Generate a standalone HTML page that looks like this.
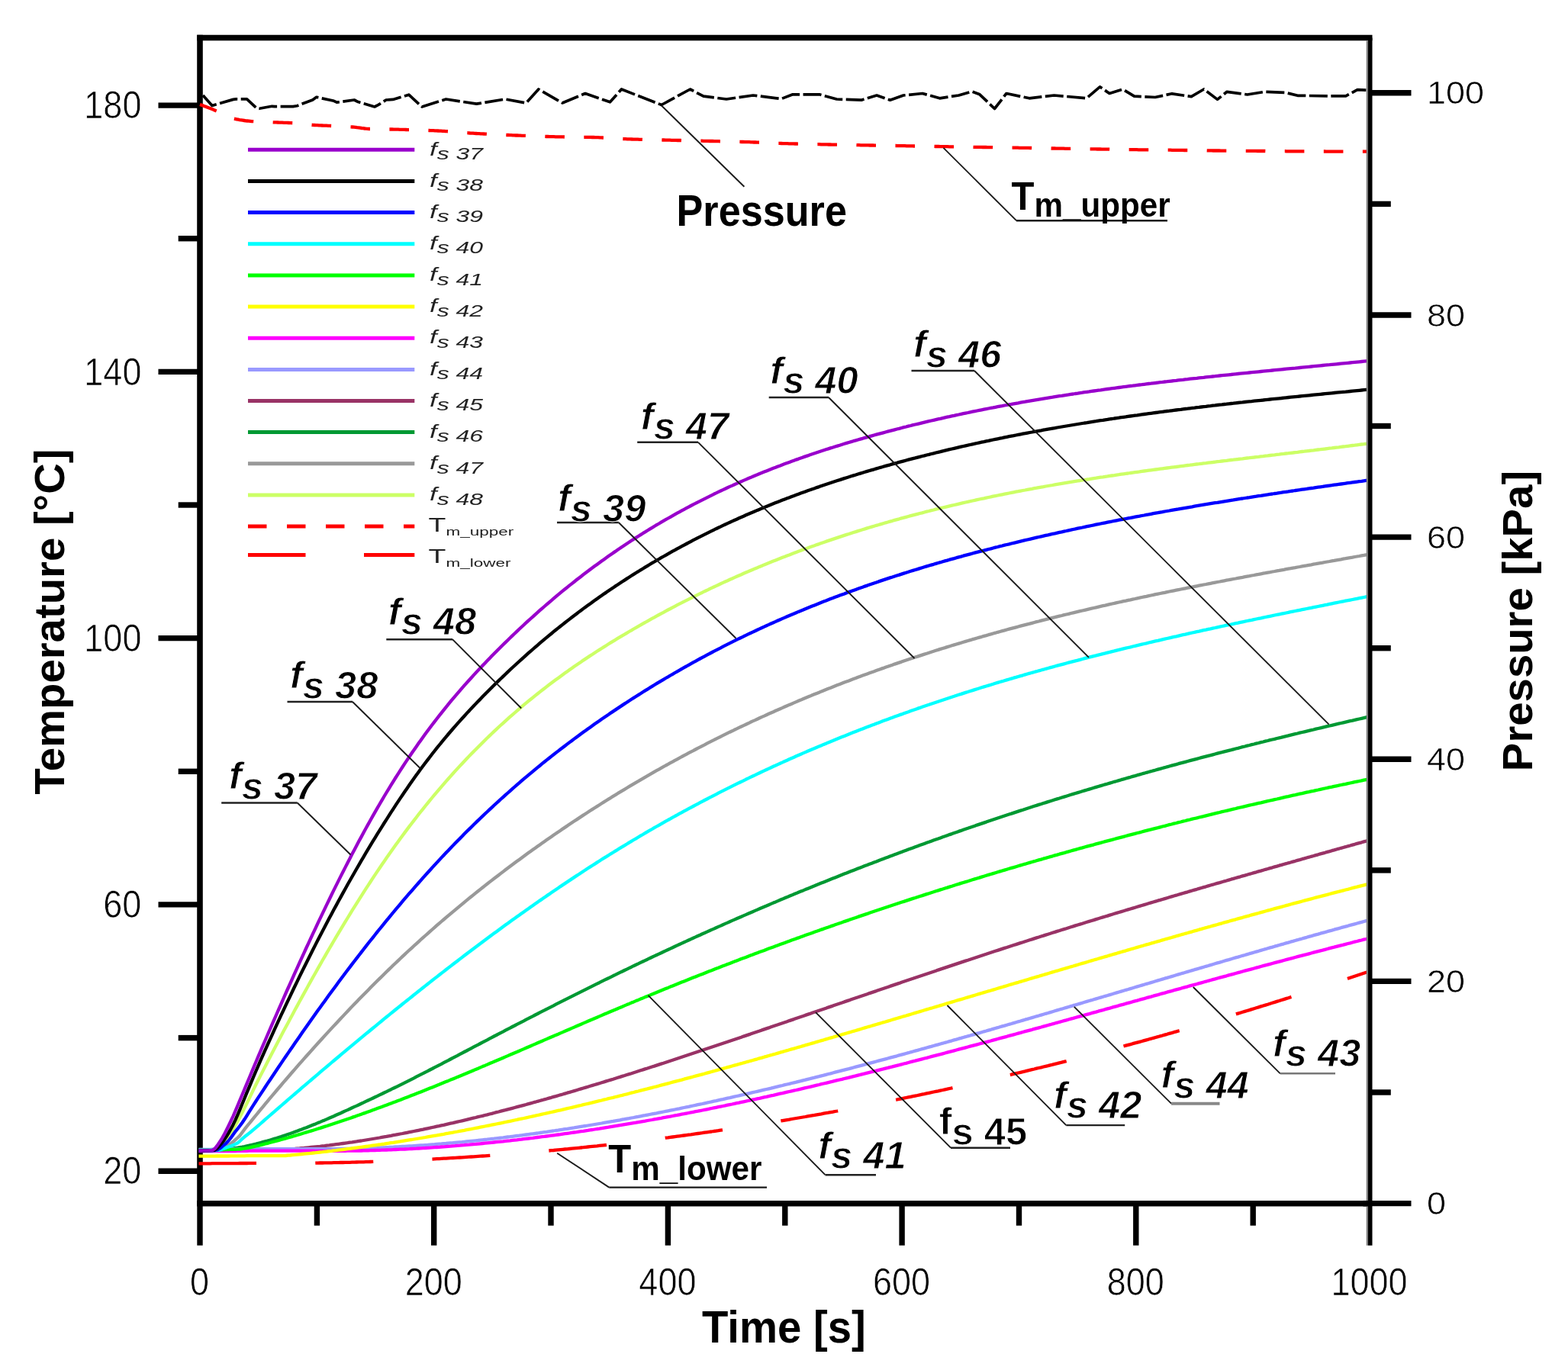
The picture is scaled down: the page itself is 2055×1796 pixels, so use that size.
<!DOCTYPE html>
<html lang="en"><head><meta charset="utf-8"><title>Temperature and pressure over time</title>
<style>
html,body{margin:0;padding:0;background:#fff;}
body{width:2055px;height:1796px;}
svg{display:block;}
text{font-family:"Liberation Sans",sans-serif;fill:#000;}
.tk{font-size:45px;stroke:#fff;stroke-width:0.6;}
.ttl{font-size:56.3px;font-weight:bold;}
.an{font-size:50.6px;font-weight:bold;stroke:#fff;stroke-width:1.0;}
.it{font-style:italic;}
.lg{font-size:24px;font-style:italic;fill:#222;}
.lgT{font-size:25px;fill:#222;}
.ax{stroke:#000;stroke-width:7.6;fill:none;stroke-linecap:butt;}
.tkl{stroke:#000;stroke-width:7.4;fill:none;stroke-linecap:butt;}
.cv{fill:none;stroke-width:4.3;stroke-linejoin:round;stroke-linecap:butt;}
.ld{fill:none;stroke-width:1.9;stroke:#1a1a1a;}
</style></head><body>
<svg width="2055" height="1796" viewBox="0 0 2055 1796" role="img" aria-label="Temperature and pressure versus time">
<rect x="0" y="0" width="2055" height="1796" fill="#fff"/>
<g id="axes">
<line class="ax" x1="262.0" y1="45.7" x2="262.0" y2="1577.7"/>
<line class="ax" x1="258.2" y1="49.5" x2="1798.5" y2="49.5"/>
<line class="ax" x1="258.2" y1="1577.7" x2="1794.5" y2="1577.7"/>
<line class="tkl" x1="207.5" y1="1535.2" x2="262.0" y2="1535.2"/>
<text class="tk" text-anchor="end" transform="translate(185.4,1552.4) scale(1,1.09)">20</text>
<line class="tkl" x1="233.7" y1="1360.6" x2="262.0" y2="1360.6"/>
<line class="tkl" x1="207.5" y1="1185.9" x2="262.0" y2="1185.9"/>
<text class="tk" text-anchor="end" transform="translate(185.4,1203.1) scale(1,1.09)">60</text>
<line class="tkl" x1="233.7" y1="1011.3" x2="262.0" y2="1011.3"/>
<line class="tkl" x1="207.5" y1="836.6" x2="262.0" y2="836.6"/>
<text class="tk" text-anchor="end" transform="translate(185.4,853.8) scale(1,1.09)">100</text>
<line class="tkl" x1="233.7" y1="662" x2="262.0" y2="662"/>
<line class="tkl" x1="207.5" y1="487.4" x2="262.0" y2="487.4"/>
<text class="tk" text-anchor="end" transform="translate(185.4,504.6) scale(1,1.09)">140</text>
<line class="tkl" x1="233.7" y1="312.7" x2="262.0" y2="312.7"/>
<line class="tkl" x1="207.5" y1="138.1" x2="262.0" y2="138.1"/>
<text class="tk" text-anchor="end" transform="translate(185.4,155.3) scale(1,1.09)">180</text>
<line class="tkl" x1="262" y1="1577.7" x2="262" y2="1632.7"/>
<text class="tk" text-anchor="middle" transform="translate(261.5,1697.6) scale(1,1.09)">0</text>
<line class="tkl" x1="415.4" y1="1577.7" x2="415.4" y2="1606.7"/>
<line class="tkl" x1="568.7" y1="1577.7" x2="568.7" y2="1632.7"/>
<text class="tk" text-anchor="middle" transform="translate(568.2,1697.6) scale(1,1.09)">200</text>
<line class="tkl" x1="722" y1="1577.7" x2="722" y2="1606.7"/>
<line class="tkl" x1="875.4" y1="1577.7" x2="875.4" y2="1632.7"/>
<text class="tk" text-anchor="middle" transform="translate(874.9,1697.6) scale(1,1.09)">400</text>
<line class="tkl" x1="1028.8" y1="1577.7" x2="1028.8" y2="1606.7"/>
<line class="tkl" x1="1182.1" y1="1577.7" x2="1182.1" y2="1632.7"/>
<text class="tk" text-anchor="middle" transform="translate(1181.6,1697.6) scale(1,1.09)">600</text>
<line class="tkl" x1="1335.5" y1="1577.7" x2="1335.5" y2="1606.7"/>
<line class="tkl" x1="1488.8" y1="1577.7" x2="1488.8" y2="1632.7"/>
<text class="tk" text-anchor="middle" transform="translate(1488.3,1697.6) scale(1,1.09)">800</text>
<line class="tkl" x1="1642.2" y1="1577.7" x2="1642.2" y2="1606.7"/>
<text class="tk" text-anchor="middle" transform="translate(1794.6,1697.6) scale(1,1.09)">1000</text>
</g>
<g id="curves">
<polyline class="cv" stroke="#ccff66" points="260.5,1508.5 263.5,1508.5 266.5,1508.5 269.5,1508.4 272.5,1508.3 275.5,1508.2 278.5,1508.1 281.5,1507.7 284.5,1506 287.5,1503.4 290.5,1500.5 293.5,1497.4 296.5,1493.6 299.5,1489.3 302.5,1484.9 305.5,1480.2 308.5,1475.2 311.5,1469.9 314.5,1464.3 317.5,1458.5 320.5,1452.6 323.5,1446.5 326.5,1440.3 329.5,1434.1 332.5,1427.9 335.5,1421.8 338.5,1415.8 341.5,1409.9 344.5,1404 347.5,1398.2 350.5,1392.3 353.5,1386.5 356.5,1380.7 359.5,1375 362.5,1369.2 365.5,1363.5 368.5,1357.8 371.5,1352.1 374.5,1346.5 377.5,1340.9 380.5,1335.2 383.5,1329.7 386.5,1324.1 389.5,1318.6 392.5,1313 395.5,1307.6 398.5,1302.1 401.5,1296.7 404.5,1291.2 407.5,1285.9 410.5,1280.5 413.5,1275.2 416.5,1269.9 419.5,1264.6 422.5,1259.3 425.5,1254.1 428.5,1248.9 431.5,1243.7 434.5,1238.6 437.5,1233.5 440.5,1228.4 443.5,1223.4 446.5,1218.3 449.5,1213.3 452.5,1208.4 455.5,1203.5 458.5,1198.6 461.5,1193.7 464.5,1188.9 467.5,1184.1 470.5,1179.3 473.5,1174.6 476.5,1169.9 479.5,1165.2 482.5,1160.6 485.5,1156 488.5,1151.4 491.5,1146.9 494.5,1142.4 497.5,1138 500.5,1133.5 503.5,1129.2 506.5,1124.8 509.5,1120.5 512.5,1116.2 515.5,1112 518.5,1107.8 521.5,1103.7 524.5,1099.5 527.5,1095.4 530.5,1091.4 533.5,1087.4 536.5,1083.4 539.5,1079.5 542.5,1075.6 545.5,1071.7 548.5,1067.8 551.5,1064 554.5,1060.3 557.5,1056.5 560.5,1052.8 563.5,1049.2 566.5,1045.5 569.5,1041.9 572.5,1038.4 575.5,1034.8 578.5,1031.3 581.5,1027.8 584.5,1024.4 587.5,1021 590.5,1017.6 593.5,1014.3 596.5,1010.9 599.5,1007.6 602.5,1004.4 605.5,1001.2 608.5,998 611.5,994.8 614.5,991.6 617.5,988.5 620.5,985.4 623.5,982.4 626.5,979.4 629.5,976.4 632.5,973.4 635.5,970.4 638.5,967.5 641.5,964.6 644.5,961.8 647.5,958.9 650.5,956.1 653.5,953.3 656.5,950.5 659.5,947.8 662.5,945.1 665.5,942.4 668.5,939.7 671.5,937.1 674.5,934.5 677.5,931.9 680.5,929.3 683.5,926.7 686.5,924.2 689.5,921.7 692.5,919.2 695.5,916.8 698.5,914.3 701.5,911.9 704.5,909.5 707.5,907.1 710.5,904.8 713.5,902.5 716.5,900.1 719.5,897.8 722.5,895.6 725.5,893.3 728.5,891.1 731.5,888.9 734.5,886.7 737.5,884.5 740.5,882.3 743.5,880.2 746.5,878 749.5,875.9 752.5,873.8 755.5,871.8 758.5,869.7 761.5,867.7 764.5,865.6 767.5,863.6 770.5,861.6 773.5,859.6 776.5,857.7 779.5,855.7 782.5,853.8 785.5,851.9 788.5,850 791.5,848.1 794.5,846.2 797.5,844.3 800.5,842.4 803.5,840.6 806.5,838.8 809.5,836.9 812.5,835.1 815.5,833.3 818.5,831.6 821.5,829.8 824.5,828 827.5,826.3 830.5,824.5 833.5,822.8 836.5,821.1 839.5,819.4 842.5,817.6 845.5,816 848.5,814.3 851.5,812.6 854.5,810.9 857.5,809.3 860.5,807.6 863.5,806 866.5,804.4 869.5,802.8 872.5,801.1 875.5,799.5 878.5,798 881.5,796.4 884.5,794.8 887.5,793.2 890.5,791.7 893.5,790.2 896.5,788.6 899.5,787.1 902.5,785.6 905.5,784.1 908.5,782.6 911.5,781.1 914.5,779.6 917.5,778.1 920.5,776.7 923.5,775.2 926.5,773.8 929.5,772.3 932.5,770.9 935.5,769.5 938.5,768.1 941.5,766.7 944.5,765.3 947.5,763.9 950.5,762.5 953.5,761.2 956.5,759.8 959.5,758.5 962.5,757.1 965.5,755.8 968.5,754.5 971.5,753.2 974.5,751.8 977.5,750.5 980.5,749.3 983.5,748 986.5,746.7 989.5,745.4 992.5,744.2 995.5,742.9 998.5,741.7 1001.5,740.4 1004.5,739.2 1007.5,738 1010.5,736.8 1013.5,735.6 1016.5,734.4 1019.5,733.2 1022.5,732 1025.5,730.8 1028.5,729.7 1031.5,728.5 1034.5,727.4 1037.5,726.2 1040.5,725.1 1043.5,723.9 1046.5,722.8 1049.5,721.7 1052.5,720.6 1055.5,719.5 1058.5,718.4 1061.5,717.3 1064.5,716.2 1067.5,715.2 1070.5,714.1 1073.5,713.1 1076.5,712 1079.5,711 1082.5,709.9 1085.5,708.9 1088.5,707.9 1091.5,706.9 1094.5,705.9 1097.5,704.9 1100.5,703.9 1103.5,702.9 1106.5,701.9 1109.5,700.9 1112.5,700 1115.5,699 1118.5,698 1121.5,697.1 1124.5,696.1 1127.5,695.2 1130.5,694.3 1133.5,693.4 1136.5,692.4 1139.5,691.5 1142.5,690.6 1145.5,689.7 1148.5,688.8 1151.5,688 1154.5,687.1 1157.5,686.2 1160.5,685.3 1163.5,684.5 1166.5,683.6 1169.5,682.8 1172.5,681.9 1175.5,681.1 1178.5,680.3 1181.5,679.4 1184.5,678.6 1187.5,677.8 1190.5,677 1193.5,676.2 1196.5,675.4 1199.5,674.6 1202.5,673.8 1205.5,673 1208.5,672.3 1211.5,671.5 1214.5,670.7 1217.5,670 1220.5,669.2 1223.5,668.5 1226.5,667.7 1229.5,667 1232.5,666.2 1235.5,665.5 1238.5,664.8 1241.5,664.1 1244.5,663.4 1247.5,662.7 1250.5,662 1253.5,661.3 1256.5,660.6 1259.5,659.9 1262.5,659.2 1265.5,658.5 1268.5,657.8 1271.5,657.2 1274.5,656.5 1277.5,655.9 1280.5,655.2 1283.5,654.5 1286.5,653.9 1289.5,653.3 1292.5,652.6 1295.5,652 1298.5,651.4 1301.5,650.7 1304.5,650.1 1307.5,649.5 1310.5,648.9 1313.5,648.3 1316.5,647.7 1319.5,647.1 1322.5,646.5 1325.5,645.9 1328.5,645.3 1331.5,644.7 1334.5,644.2 1337.5,643.6 1340.5,643 1343.5,642.5 1346.5,641.9 1349.5,641.3 1352.5,640.8 1355.5,640.2 1358.5,639.7 1361.5,639.1 1364.5,638.6 1367.5,638.1 1370.5,637.5 1373.5,637 1376.5,636.5 1379.5,636 1382.5,635.4 1385.5,634.9 1388.5,634.4 1391.5,633.9 1394.5,633.4 1397.5,632.9 1400.5,632.4 1403.5,631.9 1406.5,631.4 1409.5,630.9 1412.5,630.4 1415.5,630 1418.5,629.5 1421.5,629 1424.5,628.5 1427.5,628.1 1430.5,627.6 1433.5,627.1 1436.5,626.7 1439.5,626.2 1442.5,625.7 1445.5,625.3 1448.5,624.8 1451.5,624.4 1454.5,623.9 1457.5,623.5 1460.5,623.1 1463.5,622.6 1466.5,622.2 1469.5,621.7 1472.5,621.3 1475.5,620.9 1478.5,620.5 1481.5,620 1484.5,619.6 1487.5,619.2 1490.5,618.8 1493.5,618.4 1496.5,617.9 1499.5,617.5 1502.5,617.1 1505.5,616.7 1508.5,616.3 1511.5,615.9 1514.5,615.5 1517.5,615.1 1520.5,614.7 1523.5,614.3 1526.5,613.9 1529.5,613.5 1532.5,613.1 1535.5,612.7 1538.5,612.3 1541.5,612 1544.5,611.6 1547.5,611.2 1550.5,610.8 1553.5,610.4 1556.5,610 1559.5,609.7 1562.5,609.3 1565.5,608.9 1568.5,608.5 1571.5,608.2 1574.5,607.8 1577.5,607.4 1580.5,607.1 1583.5,606.7 1586.5,606.3 1589.5,606 1592.5,605.6 1595.5,605.2 1598.5,604.9 1601.5,604.5 1604.5,604.1 1607.5,603.8 1610.5,603.4 1613.5,603 1616.5,602.7 1619.5,602.3 1622.5,602 1625.5,601.6 1628.5,601.3 1631.5,600.9 1634.5,600.5 1637.5,600.2 1640.5,599.8 1643.5,599.5 1646.5,599.1 1649.5,598.8 1652.5,598.4 1655.5,598.1 1658.5,597.7 1661.5,597.4 1664.5,597 1667.5,596.6 1670.5,596.3 1673.5,595.9 1676.5,595.6 1679.5,595.2 1682.5,594.9 1685.5,594.5 1688.5,594.2 1691.5,593.8 1694.5,593.5 1697.5,593.1 1700.5,592.8 1703.5,592.4 1706.5,592 1709.5,591.7 1712.5,591.3 1715.5,591 1718.5,590.6 1721.5,590.3 1724.5,589.9 1727.5,589.5 1730.5,589.2 1733.5,588.8 1736.5,588.5 1739.5,588.1 1742.5,587.7 1745.5,587.4 1748.5,587 1751.5,586.6 1754.5,586.3 1757.5,585.9 1760.5,585.5 1763.5,585.2 1766.5,584.8 1769.5,584.4 1772.5,584 1775.5,583.7 1778.5,583.3 1781.5,582.9 1784.5,582.5 1787.5,582.2 1790.5,581.8 1791.5,581.7"/>
<polyline class="cv" stroke="#999999" points="260.5,1508.5 263.5,1508.5 266.5,1508.5 269.5,1508.4 272.5,1508.4 275.5,1508.3 278.5,1508.2 281.5,1508.1 284.5,1508 287.5,1507.3 290.5,1506.1 293.5,1504.6 296.5,1502.8 299.5,1501.1 302.5,1499.2 305.5,1496.8 308.5,1494.1 311.5,1491.5 314.5,1488.6 317.5,1484.5 320.5,1480.4 323.5,1476.7 326.5,1473 329.5,1469.3 332.5,1465.7 335.5,1462 338.5,1458.3 341.5,1454.7 344.5,1451.1 347.5,1447.4 350.5,1443.8 353.5,1440.2 356.5,1436.7 359.5,1433.1 362.5,1429.5 365.5,1426 368.5,1422.5 371.5,1418.9 374.5,1415.5 377.5,1412 380.5,1408.5 383.5,1405 386.5,1401.6 389.5,1398.1 392.5,1394.7 395.5,1391.3 398.5,1387.9 401.5,1384.5 404.5,1381.2 407.5,1377.8 410.5,1374.5 413.5,1371.1 416.5,1367.8 419.5,1364.5 422.5,1361.2 425.5,1357.9 428.5,1354.6 431.5,1351.4 434.5,1348.1 437.5,1344.9 440.5,1341.7 443.5,1338.5 446.5,1335.3 449.5,1332.1 452.5,1328.9 455.5,1325.7 458.5,1322.6 461.5,1319.4 464.5,1316.3 467.5,1313.2 470.5,1310.1 473.5,1307 476.5,1304 479.5,1300.9 482.5,1297.9 485.5,1294.8 488.5,1291.8 491.5,1288.8 494.5,1285.8 497.5,1282.9 500.5,1279.9 503.5,1277 506.5,1274 509.5,1271.1 512.5,1268.2 515.5,1265.3 518.5,1262.5 521.5,1259.6 524.5,1256.8 527.5,1253.9 530.5,1251.1 533.5,1248.3 536.5,1245.5 539.5,1242.8 542.5,1240 545.5,1237.3 548.5,1234.6 551.5,1231.8 554.5,1229.1 557.5,1226.5 560.5,1223.8 563.5,1221.1 566.5,1218.5 569.5,1215.9 572.5,1213.2 575.5,1210.6 578.5,1208 581.5,1205.5 584.5,1202.9 587.5,1200.3 590.5,1197.8 593.5,1195.3 596.5,1192.8 599.5,1190.3 602.5,1187.8 605.5,1185.3 608.5,1182.8 611.5,1180.4 614.5,1177.9 617.5,1175.5 620.5,1173.1 623.5,1170.6 626.5,1168.2 629.5,1165.9 632.5,1163.5 635.5,1161.1 638.5,1158.8 641.5,1156.4 644.5,1154.1 647.5,1151.8 650.5,1149.5 653.5,1147.2 656.5,1144.9 659.5,1142.6 662.5,1140.3 665.5,1138.1 668.5,1135.8 671.5,1133.6 674.5,1131.3 677.5,1129.1 680.5,1126.9 683.5,1124.7 686.5,1122.5 689.5,1120.3 692.5,1118.1 695.5,1116 698.5,1113.8 701.5,1111.7 704.5,1109.5 707.5,1107.4 710.5,1105.3 713.5,1103.2 716.5,1101.1 719.5,1099 722.5,1096.9 725.5,1094.8 728.5,1092.8 731.5,1090.7 734.5,1088.7 737.5,1086.6 740.5,1084.6 743.5,1082.6 746.5,1080.5 749.5,1078.5 752.5,1076.5 755.5,1074.6 758.5,1072.6 761.5,1070.6 764.5,1068.6 767.5,1066.7 770.5,1064.8 773.5,1062.8 776.5,1060.9 779.5,1059 782.5,1057.1 785.5,1055.2 788.5,1053.3 791.5,1051.4 794.5,1049.5 797.5,1047.6 800.5,1045.8 803.5,1043.9 806.5,1042.1 809.5,1040.2 812.5,1038.4 815.5,1036.6 818.5,1034.8 821.5,1033 824.5,1031.2 827.5,1029.4 830.5,1027.6 833.5,1025.8 836.5,1024.1 839.5,1022.3 842.5,1020.6 845.5,1018.8 848.5,1017.1 851.5,1015.4 854.5,1013.7 857.5,1011.9 860.5,1010.2 863.5,1008.6 866.5,1006.9 869.5,1005.2 872.5,1003.5 875.5,1001.9 878.5,1000.2 881.5,998.6 884.5,996.9 887.5,995.3 890.5,993.7 893.5,992 896.5,990.4 899.5,988.8 902.5,987.2 905.5,985.6 908.5,984.1 911.5,982.5 914.5,980.9 917.5,979.4 920.5,977.8 923.5,976.3 926.5,974.7 929.5,973.2 932.5,971.7 935.5,970.2 938.5,968.6 941.5,967.1 944.5,965.7 947.5,964.2 950.5,962.7 953.5,961.2 956.5,959.7 959.5,958.3 962.5,956.8 965.5,955.4 968.5,953.9 971.5,952.5 974.5,951.1 977.5,949.7 980.5,948.3 983.5,946.8 986.5,945.4 989.5,944.1 992.5,942.7 995.5,941.3 998.5,939.9 1001.5,938.6 1004.5,937.2 1007.5,935.8 1010.5,934.5 1013.5,933.2 1016.5,931.8 1019.5,930.5 1022.5,929.2 1025.5,927.9 1028.5,926.5 1031.5,925.2 1034.5,923.9 1037.5,922.7 1040.5,921.4 1043.5,920.1 1046.5,918.8 1049.5,917.6 1052.5,916.3 1055.5,915 1058.5,913.8 1061.5,912.6 1064.5,911.3 1067.5,910.1 1070.5,908.9 1073.5,907.7 1076.5,906.4 1079.5,905.2 1082.5,904 1085.5,902.8 1088.5,901.7 1091.5,900.5 1094.5,899.3 1097.5,898.1 1100.5,897 1103.5,895.8 1106.5,894.6 1109.5,893.5 1112.5,892.4 1115.5,891.2 1118.5,890.1 1121.5,889 1124.5,887.8 1127.5,886.7 1130.5,885.6 1133.5,884.5 1136.5,883.4 1139.5,882.3 1142.5,881.2 1145.5,880.2 1148.5,879.1 1151.5,878 1154.5,876.9 1157.5,875.9 1160.5,874.8 1163.5,873.8 1166.5,872.7 1169.5,871.7 1172.5,870.6 1175.5,869.6 1178.5,868.6 1181.5,867.6 1184.5,866.5 1187.5,865.5 1190.5,864.5 1193.5,863.5 1196.5,862.5 1199.5,861.5 1202.5,860.6 1205.5,859.6 1208.5,858.6 1211.5,857.6 1214.5,856.7 1217.5,855.7 1220.5,854.7 1223.5,853.8 1226.5,852.8 1229.5,851.9 1232.5,850.9 1235.5,850 1238.5,849.1 1241.5,848.1 1244.5,847.2 1247.5,846.3 1250.5,845.4 1253.5,844.5 1256.5,843.6 1259.5,842.7 1262.5,841.8 1265.5,840.9 1268.5,840 1271.5,839.1 1274.5,838.2 1277.5,837.4 1280.5,836.5 1283.5,835.6 1286.5,834.8 1289.5,833.9 1292.5,833.1 1295.5,832.2 1298.5,831.4 1301.5,830.5 1304.5,829.7 1307.5,828.8 1310.5,828 1313.5,827.2 1316.5,826.4 1319.5,825.5 1322.5,824.7 1325.5,823.9 1328.5,823.1 1331.5,822.3 1334.5,821.5 1337.5,820.7 1340.5,819.9 1343.5,819.1 1346.5,818.3 1349.5,817.6 1352.5,816.8 1355.5,816 1358.5,815.2 1361.5,814.5 1364.5,813.7 1367.5,812.9 1370.5,812.2 1373.5,811.4 1376.5,810.7 1379.5,809.9 1382.5,809.2 1385.5,808.4 1388.5,807.7 1391.5,807 1394.5,806.2 1397.5,805.5 1400.5,804.8 1403.5,804 1406.5,803.3 1409.5,802.6 1412.5,801.9 1415.5,801.2 1418.5,800.5 1421.5,799.8 1424.5,799.1 1427.5,798.4 1430.5,797.7 1433.5,797 1436.5,796.3 1439.5,795.6 1442.5,794.9 1445.5,794.2 1448.5,793.6 1451.5,792.9 1454.5,792.2 1457.5,791.5 1460.5,790.9 1463.5,790.2 1466.5,789.5 1469.5,788.9 1472.5,788.2 1475.5,787.6 1478.5,786.9 1481.5,786.3 1484.5,785.6 1487.5,785 1490.5,784.3 1493.5,783.7 1496.5,783 1499.5,782.4 1502.5,781.8 1505.5,781.1 1508.5,780.5 1511.5,779.9 1514.5,779.2 1517.5,778.6 1520.5,778 1523.5,777.4 1526.5,776.8 1529.5,776.1 1532.5,775.5 1535.5,774.9 1538.5,774.3 1541.5,773.7 1544.5,773.1 1547.5,772.5 1550.5,771.9 1553.5,771.3 1556.5,770.7 1559.5,770.1 1562.5,769.5 1565.5,768.9 1568.5,768.3 1571.5,767.7 1574.5,767.1 1577.5,766.5 1580.5,766 1583.5,765.4 1586.5,764.8 1589.5,764.2 1592.5,763.6 1595.5,763 1598.5,762.5 1601.5,761.9 1604.5,761.3 1607.5,760.7 1610.5,760.2 1613.5,759.6 1616.5,759 1619.5,758.5 1622.5,757.9 1625.5,757.3 1628.5,756.8 1631.5,756.2 1634.5,755.6 1637.5,755.1 1640.5,754.5 1643.5,754 1646.5,753.4 1649.5,752.9 1652.5,752.3 1655.5,751.7 1658.5,751.2 1661.5,750.6 1664.5,750.1 1667.5,749.5 1670.5,749 1673.5,748.4 1676.5,747.9 1679.5,747.3 1682.5,746.8 1685.5,746.2 1688.5,745.7 1691.5,745.2 1694.5,744.6 1697.5,744.1 1700.5,743.5 1703.5,743 1706.5,742.4 1709.5,741.9 1712.5,741.4 1715.5,740.8 1718.5,740.3 1721.5,739.7 1724.5,739.2 1727.5,738.6 1730.5,738.1 1733.5,737.6 1736.5,737 1739.5,736.5 1742.5,736 1745.5,735.4 1748.5,734.9 1751.5,734.3 1754.5,733.8 1757.5,733.3 1760.5,732.7 1763.5,732.2 1766.5,731.6 1769.5,731.1 1772.5,730.6 1775.5,730 1778.5,729.5 1781.5,729 1784.5,728.4 1787.5,727.9 1790.5,727.3 1791.5,727.2"/>
<polyline class="cv" stroke="#009933" points="260.5,1507.5 263.5,1507.5 266.5,1507.5 269.5,1507.4 272.5,1507.3 275.5,1507.2 278.5,1507.1 281.5,1507 284.5,1506.9 287.5,1506.7 290.5,1506.6 293.5,1506.4 296.5,1506.2 299.5,1506 302.5,1505.8 305.5,1505.5 308.5,1505.1 311.5,1504.7 314.5,1504.1 317.5,1503.6 320.5,1503 323.5,1502.3 326.5,1501.7 329.5,1501 332.5,1500.3 335.5,1499.6 338.5,1498.8 341.5,1498 344.5,1497.2 347.5,1496.4 350.5,1495.6 353.5,1494.7 356.5,1493.8 359.5,1492.9 362.5,1492 365.5,1491 368.5,1490.1 371.5,1489.1 374.5,1488.1 377.5,1487 380.5,1486 383.5,1484.9 386.5,1483.8 389.5,1482.7 392.5,1481.6 395.5,1480.5 398.5,1479.3 401.5,1478.2 404.5,1477 407.5,1475.8 410.5,1474.6 413.5,1473.4 416.5,1472.1 419.5,1470.9 422.5,1469.6 425.5,1468.4 428.5,1467.1 431.5,1465.8 434.5,1464.5 437.5,1463.2 440.5,1461.8 443.5,1460.5 446.5,1459.2 449.5,1457.8 452.5,1456.4 455.5,1455.1 458.5,1453.7 461.5,1452.3 464.5,1450.9 467.5,1449.6 470.5,1448.2 473.5,1446.8 476.5,1445.4 479.5,1443.9 482.5,1442.5 485.5,1441.1 488.5,1439.7 491.5,1438.3 494.5,1436.9 497.5,1435.4 500.5,1434 503.5,1432.5 506.5,1431.1 509.5,1429.6 512.5,1428.2 515.5,1426.7 518.5,1425.3 521.5,1423.8 524.5,1422.3 527.5,1420.8 530.5,1419.3 533.5,1417.8 536.5,1416.3 539.5,1414.8 542.5,1413.3 545.5,1411.7 548.5,1410.2 551.5,1408.7 554.5,1407.2 557.5,1405.6 560.5,1404.1 563.5,1402.5 566.5,1401 569.5,1399.4 572.5,1397.9 575.5,1396.3 578.5,1394.8 581.5,1393.2 584.5,1391.6 587.5,1390.1 590.5,1388.5 593.5,1386.9 596.5,1385.3 599.5,1383.8 602.5,1382.2 605.5,1380.6 608.5,1379 611.5,1377.5 614.5,1375.9 617.5,1374.3 620.5,1372.7 623.5,1371.1 626.5,1369.6 629.5,1368 632.5,1366.4 635.5,1364.8 638.5,1363.3 641.5,1361.7 644.5,1360.1 647.5,1358.5 650.5,1357 653.5,1355.4 656.5,1353.8 659.5,1352.3 662.5,1350.7 665.5,1349.1 668.5,1347.6 671.5,1346 674.5,1344.5 677.5,1342.9 680.5,1341.4 683.5,1339.8 686.5,1338.3 689.5,1336.7 692.5,1335.2 695.5,1333.6 698.5,1332.1 701.5,1330.5 704.5,1329 707.5,1327.4 710.5,1325.9 713.5,1324.4 716.5,1322.8 719.5,1321.3 722.5,1319.8 725.5,1318.3 728.5,1316.7 731.5,1315.2 734.5,1313.7 737.5,1312.2 740.5,1310.6 743.5,1309.1 746.5,1307.6 749.5,1306.1 752.5,1304.6 755.5,1303.1 758.5,1301.6 761.5,1300.1 764.5,1298.6 767.5,1297.1 770.5,1295.6 773.5,1294.1 776.5,1292.6 779.5,1291.1 782.5,1289.6 785.5,1288.2 788.5,1286.7 791.5,1285.2 794.5,1283.7 797.5,1282.3 800.5,1280.8 803.5,1279.3 806.5,1277.9 809.5,1276.4 812.5,1274.9 815.5,1273.5 818.5,1272 821.5,1270.6 824.5,1269.1 827.5,1267.7 830.5,1266.2 833.5,1264.8 836.5,1263.4 839.5,1261.9 842.5,1260.5 845.5,1259.1 848.5,1257.7 851.5,1256.2 854.5,1254.8 857.5,1253.4 860.5,1252 863.5,1250.6 866.5,1249.2 869.5,1247.8 872.5,1246.4 875.5,1245 878.5,1243.6 881.5,1242.2 884.5,1240.8 887.5,1239.4 890.5,1238 893.5,1236.6 896.5,1235.2 899.5,1233.9 902.5,1232.5 905.5,1231.1 908.5,1229.7 911.5,1228.4 914.5,1227 917.5,1225.7 920.5,1224.3 923.5,1223 926.5,1221.6 929.5,1220.3 932.5,1218.9 935.5,1217.6 938.5,1216.2 941.5,1214.9 944.5,1213.6 947.5,1212.2 950.5,1210.9 953.5,1209.6 956.5,1208.2 959.5,1206.9 962.5,1205.6 965.5,1204.3 968.5,1203 971.5,1201.7 974.5,1200.4 977.5,1199.1 980.5,1197.8 983.5,1196.5 986.5,1195.2 989.5,1193.9 992.5,1192.6 995.5,1191.3 998.5,1190 1001.5,1188.7 1004.5,1187.5 1007.5,1186.2 1010.5,1184.9 1013.5,1183.6 1016.5,1182.4 1019.5,1181.1 1022.5,1179.8 1025.5,1178.6 1028.5,1177.3 1031.5,1176.1 1034.5,1174.8 1037.5,1173.6 1040.5,1172.3 1043.5,1171.1 1046.5,1169.8 1049.5,1168.6 1052.5,1167.4 1055.5,1166.1 1058.5,1164.9 1061.5,1163.7 1064.5,1162.5 1067.5,1161.3 1070.5,1160 1073.5,1158.8 1076.5,1157.6 1079.5,1156.4 1082.5,1155.2 1085.5,1154 1088.5,1152.8 1091.5,1151.6 1094.5,1150.4 1097.5,1149.2 1100.5,1148 1103.5,1146.8 1106.5,1145.6 1109.5,1144.5 1112.5,1143.3 1115.5,1142.1 1118.5,1140.9 1121.5,1139.8 1124.5,1138.6 1127.5,1137.4 1130.5,1136.3 1133.5,1135.1 1136.5,1134 1139.5,1132.8 1142.5,1131.7 1145.5,1130.5 1148.5,1129.4 1151.5,1128.2 1154.5,1127.1 1157.5,1125.9 1160.5,1124.8 1163.5,1123.7 1166.5,1122.5 1169.5,1121.4 1172.5,1120.3 1175.5,1119.2 1178.5,1118.1 1181.5,1116.9 1184.5,1115.8 1187.5,1114.7 1190.5,1113.6 1193.5,1112.5 1196.5,1111.4 1199.5,1110.3 1202.5,1109.2 1205.5,1108.1 1208.5,1107 1211.5,1105.9 1214.5,1104.8 1217.5,1103.8 1220.5,1102.7 1223.5,1101.6 1226.5,1100.5 1229.5,1099.5 1232.5,1098.4 1235.5,1097.3 1238.5,1096.3 1241.5,1095.2 1244.5,1094.1 1247.5,1093.1 1250.5,1092 1253.5,1091 1256.5,1089.9 1259.5,1088.9 1262.5,1087.8 1265.5,1086.8 1268.5,1085.8 1271.5,1084.7 1274.5,1083.7 1277.5,1082.7 1280.5,1081.6 1283.5,1080.6 1286.5,1079.6 1289.5,1078.6 1292.5,1077.6 1295.5,1076.5 1298.5,1075.5 1301.5,1074.5 1304.5,1073.5 1307.5,1072.5 1310.5,1071.5 1313.5,1070.5 1316.5,1069.5 1319.5,1068.5 1322.5,1067.5 1325.5,1066.6 1328.5,1065.6 1331.5,1064.6 1334.5,1063.6 1337.5,1062.6 1340.5,1061.7 1343.5,1060.7 1346.5,1059.7 1349.5,1058.8 1352.5,1057.8 1355.5,1056.8 1358.5,1055.9 1361.5,1054.9 1364.5,1054 1367.5,1053 1370.5,1052.1 1373.5,1051.1 1376.5,1050.2 1379.5,1049.3 1382.5,1048.3 1385.5,1047.4 1388.5,1046.5 1391.5,1045.5 1394.5,1044.6 1397.5,1043.7 1400.5,1042.8 1403.5,1041.8 1406.5,1040.9 1409.5,1040 1412.5,1039.1 1415.5,1038.2 1418.5,1037.3 1421.5,1036.4 1424.5,1035.5 1427.5,1034.6 1430.5,1033.7 1433.5,1032.8 1436.5,1031.9 1439.5,1031 1442.5,1030.1 1445.5,1029.2 1448.5,1028.3 1451.5,1027.5 1454.5,1026.6 1457.5,1025.7 1460.5,1024.8 1463.5,1024 1466.5,1023.1 1469.5,1022.2 1472.5,1021.4 1475.5,1020.5 1478.5,1019.6 1481.5,1018.8 1484.5,1017.9 1487.5,1017.1 1490.5,1016.2 1493.5,1015.4 1496.5,1014.5 1499.5,1013.7 1502.5,1012.8 1505.5,1012 1508.5,1011.2 1511.5,1010.3 1514.5,1009.5 1517.5,1008.6 1520.5,1007.8 1523.5,1007 1526.5,1006.2 1529.5,1005.3 1532.5,1004.5 1535.5,1003.7 1538.5,1002.9 1541.5,1002.1 1544.5,1001.2 1547.5,1000.4 1550.5,999.6 1553.5,998.8 1556.5,998 1559.5,997.2 1562.5,996.4 1565.5,995.6 1568.5,994.8 1571.5,994 1574.5,993.2 1577.5,992.4 1580.5,991.6 1583.5,990.8 1586.5,990.1 1589.5,989.3 1592.5,988.5 1595.5,987.7 1598.5,986.9 1601.5,986.2 1604.5,985.4 1607.5,984.6 1610.5,983.8 1613.5,983.1 1616.5,982.3 1619.5,981.5 1622.5,980.8 1625.5,980 1628.5,979.2 1631.5,978.5 1634.5,977.7 1637.5,977 1640.5,976.2 1643.5,975.5 1646.5,974.7 1649.5,974 1652.5,973.2 1655.5,972.5 1658.5,971.7 1661.5,971 1664.5,970.2 1667.5,969.5 1670.5,968.8 1673.5,968 1676.5,967.3 1679.5,966.6 1682.5,965.8 1685.5,965.1 1688.5,964.4 1691.5,963.6 1694.5,962.9 1697.5,962.2 1700.5,961.5 1703.5,960.7 1706.5,960 1709.5,959.3 1712.5,958.6 1715.5,957.9 1718.5,957.2 1721.5,956.5 1724.5,955.7 1727.5,955 1730.5,954.3 1733.5,953.6 1736.5,952.9 1739.5,952.2 1742.5,951.5 1745.5,950.8 1748.5,950.1 1751.5,949.4 1754.5,948.7 1757.5,948 1760.5,947.3 1763.5,946.6 1766.5,945.9 1769.5,945.2 1772.5,944.6 1775.5,943.9 1778.5,943.2 1781.5,942.5 1784.5,941.8 1787.5,941.1 1790.5,940.4 1791.5,940.2"/>
<polyline class="cv" stroke="#993366" points="260.5,1508.5 263.5,1508.5 266.5,1508.5 269.5,1508.5 272.5,1508.5 275.5,1508.5 278.5,1508.5 281.5,1508.4 284.5,1508.4 287.5,1508.4 290.5,1508.4 293.5,1508.3 296.5,1508.3 299.5,1508.3 302.5,1508.3 305.5,1508.2 308.5,1508.2 311.5,1508.1 314.5,1508.1 317.5,1508 320.5,1508 323.5,1507.9 326.5,1507.9 329.5,1507.9 332.5,1507.9 335.5,1507.9 338.5,1507.9 341.5,1507.9 344.5,1507.9 347.5,1507.9 350.5,1507.9 353.5,1507.8 356.5,1507.7 359.5,1507.5 362.5,1507.4 365.5,1507.2 368.5,1507.1 371.5,1506.9 374.5,1506.7 377.5,1506.5 380.5,1506.3 383.5,1506.1 386.5,1505.9 389.5,1505.6 392.5,1505.4 395.5,1505.1 398.5,1504.9 401.5,1504.6 404.5,1504.3 407.5,1504 410.5,1503.7 413.5,1503.4 416.5,1503.1 419.5,1502.8 422.5,1502.4 425.5,1502.1 428.5,1501.7 431.5,1501.4 434.5,1501 437.5,1500.6 440.5,1500.2 443.5,1499.8 446.5,1499.4 449.5,1499 452.5,1498.6 455.5,1498.2 458.5,1497.7 461.5,1497.3 464.5,1496.8 467.5,1496.4 470.5,1495.9 473.5,1495.5 476.5,1495 479.5,1494.5 482.5,1494 485.5,1493.5 488.5,1493 491.5,1492.5 494.5,1492 497.5,1491.5 500.5,1490.9 503.5,1490.4 506.5,1489.9 509.5,1489.3 512.5,1488.8 515.5,1488.2 518.5,1487.7 521.5,1487.1 524.5,1486.5 527.5,1486 530.5,1485.4 533.5,1484.8 536.5,1484.2 539.5,1483.6 542.5,1483 545.5,1482.4 548.5,1481.8 551.5,1481.2 554.5,1480.6 557.5,1479.9 560.5,1479.3 563.5,1478.7 566.5,1478 569.5,1477.4 572.5,1476.7 575.5,1476.1 578.5,1475.4 581.5,1474.8 584.5,1474.1 587.5,1473.4 590.5,1472.7 593.5,1472.1 596.5,1471.4 599.5,1470.7 602.5,1470 605.5,1469.3 608.5,1468.6 611.5,1467.9 614.5,1467.1 617.5,1466.4 620.5,1465.7 623.5,1465 626.5,1464.2 629.5,1463.5 632.5,1462.8 635.5,1462 638.5,1461.3 641.5,1460.5 644.5,1459.8 647.5,1459 650.5,1458.2 653.5,1457.5 656.5,1456.7 659.5,1455.9 662.5,1455.2 665.5,1454.4 668.5,1453.6 671.5,1452.8 674.5,1452 677.5,1451.2 680.5,1450.4 683.5,1449.6 686.5,1448.8 689.5,1448 692.5,1447.1 695.5,1446.3 698.5,1445.5 701.5,1444.7 704.5,1443.8 707.5,1443 710.5,1442.2 713.5,1441.3 716.5,1440.5 719.5,1439.6 722.5,1438.8 725.5,1437.9 728.5,1437.1 731.5,1436.2 734.5,1435.3 737.5,1434.5 740.5,1433.6 743.5,1432.7 746.5,1431.9 749.5,1431 752.5,1430.1 755.5,1429.2 758.5,1428.3 761.5,1427.4 764.5,1426.5 767.5,1425.6 770.5,1424.7 773.5,1423.8 776.5,1422.9 779.5,1422 782.5,1421.1 785.5,1420.2 788.5,1419.3 791.5,1418.4 794.5,1417.4 797.5,1416.5 800.5,1415.6 803.5,1414.7 806.5,1413.7 809.5,1412.8 812.5,1411.9 815.5,1410.9 818.5,1410 821.5,1409 824.5,1408.1 827.5,1407.2 830.5,1406.2 833.5,1405.3 836.5,1404.3 839.5,1403.3 842.5,1402.4 845.5,1401.4 848.5,1400.5 851.5,1399.5 854.5,1398.5 857.5,1397.6 860.5,1396.6 863.5,1395.6 866.5,1394.6 869.5,1393.7 872.5,1392.7 875.5,1391.7 878.5,1390.7 881.5,1389.8 884.5,1388.8 887.5,1387.8 890.5,1386.8 893.5,1385.8 896.5,1384.8 899.5,1383.8 902.5,1382.8 905.5,1381.8 908.5,1380.8 911.5,1379.8 914.5,1378.8 917.5,1377.8 920.5,1376.8 923.5,1375.8 926.5,1374.8 929.5,1373.8 932.5,1372.8 935.5,1371.8 938.5,1370.8 941.5,1369.8 944.5,1368.8 947.5,1367.8 950.5,1366.8 953.5,1365.8 956.5,1364.7 959.5,1363.7 962.5,1362.7 965.5,1361.7 968.5,1360.7 971.5,1359.7 974.5,1358.6 977.5,1357.6 980.5,1356.6 983.5,1355.6 986.5,1354.5 989.5,1353.5 992.5,1352.5 995.5,1351.5 998.5,1350.4 1001.5,1349.4 1004.5,1348.4 1007.5,1347.4 1010.5,1346.3 1013.5,1345.3 1016.5,1344.3 1019.5,1343.3 1022.5,1342.2 1025.5,1341.2 1028.5,1340.2 1031.5,1339.2 1034.5,1338.1 1037.5,1337.1 1040.5,1336.1 1043.5,1335 1046.5,1334 1049.5,1333 1052.5,1332 1055.5,1330.9 1058.5,1329.9 1061.5,1328.9 1064.5,1327.8 1067.5,1326.8 1070.5,1325.8 1073.5,1324.7 1076.5,1323.7 1079.5,1322.7 1082.5,1321.7 1085.5,1320.6 1088.5,1319.6 1091.5,1318.6 1094.5,1317.5 1097.5,1316.5 1100.5,1315.5 1103.5,1314.5 1106.5,1313.4 1109.5,1312.4 1112.5,1311.4 1115.5,1310.3 1118.5,1309.3 1121.5,1308.3 1124.5,1307.3 1127.5,1306.2 1130.5,1305.2 1133.5,1304.2 1136.5,1303.2 1139.5,1302.1 1142.5,1301.1 1145.5,1300.1 1148.5,1299.1 1151.5,1298 1154.5,1297 1157.5,1296 1160.5,1295 1163.5,1294 1166.5,1292.9 1169.5,1291.9 1172.5,1290.9 1175.5,1289.9 1178.5,1288.9 1181.5,1287.8 1184.5,1286.8 1187.5,1285.8 1190.5,1284.8 1193.5,1283.8 1196.5,1282.8 1199.5,1281.7 1202.5,1280.7 1205.5,1279.7 1208.5,1278.7 1211.5,1277.7 1214.5,1276.7 1217.5,1275.7 1220.5,1274.7 1223.5,1273.7 1226.5,1272.7 1229.5,1271.6 1232.5,1270.6 1235.5,1269.6 1238.5,1268.6 1241.5,1267.6 1244.5,1266.6 1247.5,1265.6 1250.5,1264.6 1253.5,1263.6 1256.5,1262.6 1259.5,1261.6 1262.5,1260.6 1265.5,1259.6 1268.5,1258.7 1271.5,1257.7 1274.5,1256.7 1277.5,1255.7 1280.5,1254.7 1283.5,1253.7 1286.5,1252.7 1289.5,1251.7 1292.5,1250.8 1295.5,1249.8 1298.5,1248.8 1301.5,1247.8 1304.5,1246.8 1307.5,1245.9 1310.5,1244.9 1313.5,1243.9 1316.5,1242.9 1319.5,1242 1322.5,1241 1325.5,1240 1328.5,1239 1331.5,1238.1 1334.5,1237.1 1337.5,1236.1 1340.5,1235.2 1343.5,1234.2 1346.5,1233.3 1349.5,1232.3 1352.5,1231.4 1355.5,1230.4 1358.5,1229.4 1361.5,1228.5 1364.5,1227.5 1367.5,1226.6 1370.5,1225.6 1373.5,1224.7 1376.5,1223.8 1379.5,1222.8 1382.5,1221.9 1385.5,1220.9 1388.5,1220 1391.5,1219 1394.5,1218.1 1397.5,1217.2 1400.5,1216.2 1403.5,1215.3 1406.5,1214.4 1409.5,1213.4 1412.5,1212.5 1415.5,1211.6 1418.5,1210.7 1421.5,1209.7 1424.5,1208.8 1427.5,1207.9 1430.5,1207 1433.5,1206.1 1436.5,1205.1 1439.5,1204.2 1442.5,1203.3 1445.5,1202.4 1448.5,1201.5 1451.5,1200.6 1454.5,1199.6 1457.5,1198.7 1460.5,1197.8 1463.5,1196.9 1466.5,1196 1469.5,1195.1 1472.5,1194.2 1475.5,1193.3 1478.5,1192.4 1481.5,1191.5 1484.5,1190.6 1487.5,1189.7 1490.5,1188.8 1493.5,1187.9 1496.5,1187 1499.5,1186.1 1502.5,1185.2 1505.5,1184.3 1508.5,1183.4 1511.5,1182.5 1514.5,1181.6 1517.5,1180.7 1520.5,1179.9 1523.5,1179 1526.5,1178.1 1529.5,1177.2 1532.5,1176.3 1535.5,1175.4 1538.5,1174.5 1541.5,1173.7 1544.5,1172.8 1547.5,1171.9 1550.5,1171 1553.5,1170.1 1556.5,1169.3 1559.5,1168.4 1562.5,1167.5 1565.5,1166.6 1568.5,1165.8 1571.5,1164.9 1574.5,1164 1577.5,1163.1 1580.5,1162.3 1583.5,1161.4 1586.5,1160.5 1589.5,1159.7 1592.5,1158.8 1595.5,1157.9 1598.5,1157.1 1601.5,1156.2 1604.5,1155.3 1607.5,1154.5 1610.5,1153.6 1613.5,1152.7 1616.5,1151.9 1619.5,1151 1622.5,1150.1 1625.5,1149.3 1628.5,1148.4 1631.5,1147.6 1634.5,1146.7 1637.5,1145.8 1640.5,1145 1643.5,1144.1 1646.5,1143.3 1649.5,1142.4 1652.5,1141.6 1655.5,1140.7 1658.5,1139.8 1661.5,1139 1664.5,1138.1 1667.5,1137.3 1670.5,1136.4 1673.5,1135.6 1676.5,1134.7 1679.5,1133.9 1682.5,1133 1685.5,1132.2 1688.5,1131.3 1691.5,1130.5 1694.5,1129.6 1697.5,1128.8 1700.5,1127.9 1703.5,1127.1 1706.5,1126.2 1709.5,1125.4 1712.5,1124.5 1715.5,1123.7 1718.5,1122.8 1721.5,1122 1724.5,1121.1 1727.5,1120.3 1730.5,1119.4 1733.5,1118.6 1736.5,1117.8 1739.5,1116.9 1742.5,1116.1 1745.5,1115.2 1748.5,1114.4 1751.5,1113.5 1754.5,1112.7 1757.5,1111.8 1760.5,1111 1763.5,1110.2 1766.5,1109.3 1769.5,1108.5 1772.5,1107.6 1775.5,1106.8 1778.5,1105.9 1781.5,1105.1 1784.5,1104.3 1787.5,1103.4 1790.5,1102.6 1791.5,1102.3"/>
<polyline class="cv" stroke="#9999ff" points="260.5,1507 263.5,1507 266.5,1506.9 269.5,1506.9 272.5,1506.8 275.5,1506.8 278.5,1506.7 281.5,1506.7 284.5,1506.7 287.5,1506.6 290.5,1506.6 293.5,1506.6 296.5,1506.5 299.5,1506.5 302.5,1506.4 305.5,1506.4 308.5,1506.3 311.5,1506.3 314.5,1506.3 317.5,1506.2 320.5,1506.2 323.5,1506.2 326.5,1506.1 329.5,1506.1 332.5,1506.1 335.5,1506.1 338.5,1506.1 341.5,1506.1 344.5,1506.1 347.5,1506.1 350.5,1506.1 353.5,1506.1 356.5,1506.1 359.5,1506.1 362.5,1506.1 365.5,1506.1 368.5,1506.1 371.5,1506.1 374.5,1506.1 377.5,1506.1 380.5,1506.1 383.5,1506.1 386.5,1506.1 389.5,1506.1 392.5,1506.1 395.5,1506.1 398.5,1506.1 401.5,1506.1 404.5,1506.2 407.5,1506.2 410.5,1506.2 413.5,1506.2 416.5,1506.2 419.5,1506.2 422.5,1506.2 425.5,1506.2 428.5,1506.2 431.5,1506.2 434.5,1506.2 437.5,1506.1 440.5,1506.1 443.5,1506.1 446.5,1506 449.5,1506 452.5,1505.9 455.5,1505.9 458.5,1505.8 461.5,1505.7 464.5,1505.7 467.5,1505.6 470.5,1505.5 473.5,1505.4 476.5,1505.3 479.5,1505.2 482.5,1505.1 485.5,1505 488.5,1504.9 491.5,1504.8 494.5,1504.7 497.5,1504.5 500.5,1504.4 503.5,1504.3 506.5,1504.1 509.5,1504 512.5,1503.8 515.5,1503.7 518.5,1503.5 521.5,1503.4 524.5,1503.2 527.5,1503 530.5,1502.9 533.5,1502.7 536.5,1502.5 539.5,1502.3 542.5,1502.1 545.5,1501.9 548.5,1501.7 551.5,1501.5 554.5,1501.3 557.5,1501.1 560.5,1500.9 563.5,1500.6 566.5,1500.4 569.5,1500.2 572.5,1499.9 575.5,1499.7 578.5,1499.5 581.5,1499.2 584.5,1499 587.5,1498.7 590.5,1498.4 593.5,1498.2 596.5,1497.9 599.5,1497.6 602.5,1497.3 605.5,1497.1 608.5,1496.8 611.5,1496.5 614.5,1496.2 617.5,1495.9 620.5,1495.6 623.5,1495.3 626.5,1495 629.5,1494.6 632.5,1494.3 635.5,1494 638.5,1493.7 641.5,1493.3 644.5,1493 647.5,1492.7 650.5,1492.3 653.5,1492 656.5,1491.6 659.5,1491.3 662.5,1490.9 665.5,1490.5 668.5,1490.2 671.5,1489.8 674.5,1489.4 677.5,1489 680.5,1488.7 683.5,1488.3 686.5,1487.9 689.5,1487.5 692.5,1487.1 695.5,1486.7 698.5,1486.3 701.5,1485.9 704.5,1485.5 707.5,1485 710.5,1484.6 713.5,1484.2 716.5,1483.8 719.5,1483.3 722.5,1482.9 725.5,1482.5 728.5,1482 731.5,1481.6 734.5,1481.1 737.5,1480.7 740.5,1480.2 743.5,1479.8 746.5,1479.3 749.5,1478.8 752.5,1478.4 755.5,1477.9 758.5,1477.4 761.5,1476.9 764.5,1476.4 767.5,1476 770.5,1475.5 773.5,1475 776.5,1474.5 779.5,1474 782.5,1473.5 785.5,1473 788.5,1472.5 791.5,1471.9 794.5,1471.4 797.5,1470.9 800.5,1470.4 803.5,1469.9 806.5,1469.3 809.5,1468.8 812.5,1468.3 815.5,1467.7 818.5,1467.2 821.5,1466.6 824.5,1466.1 827.5,1465.5 830.5,1465 833.5,1464.4 836.5,1463.9 839.5,1463.3 842.5,1462.7 845.5,1462.2 848.5,1461.6 851.5,1461 854.5,1460.4 857.5,1459.8 860.5,1459.3 863.5,1458.7 866.5,1458.1 869.5,1457.5 872.5,1456.9 875.5,1456.3 878.5,1455.7 881.5,1455.1 884.5,1454.5 887.5,1453.9 890.5,1453.3 893.5,1452.6 896.5,1452 899.5,1451.4 902.5,1450.8 905.5,1450.1 908.5,1449.5 911.5,1448.9 914.5,1448.2 917.5,1447.6 920.5,1447 923.5,1446.3 926.5,1445.7 929.5,1445 932.5,1444.4 935.5,1443.7 938.5,1443.1 941.5,1442.4 944.5,1441.7 947.5,1441.1 950.5,1440.4 953.5,1439.7 956.5,1439.1 959.5,1438.4 962.5,1437.7 965.5,1437 968.5,1436.4 971.5,1435.7 974.5,1435 977.5,1434.3 980.5,1433.6 983.5,1432.9 986.5,1432.2 989.5,1431.5 992.5,1430.8 995.5,1430.1 998.5,1429.4 1001.5,1428.7 1004.5,1428 1007.5,1427.3 1010.5,1426.6 1013.5,1425.8 1016.5,1425.1 1019.5,1424.4 1022.5,1423.7 1025.5,1423 1028.5,1422.2 1031.5,1421.5 1034.5,1420.8 1037.5,1420 1040.5,1419.3 1043.5,1418.6 1046.5,1417.8 1049.5,1417.1 1052.5,1416.3 1055.5,1415.6 1058.5,1414.8 1061.5,1414.1 1064.5,1413.3 1067.5,1412.6 1070.5,1411.8 1073.5,1411.1 1076.5,1410.3 1079.5,1409.6 1082.5,1408.8 1085.5,1408 1088.5,1407.3 1091.5,1406.5 1094.5,1405.7 1097.5,1404.9 1100.5,1404.2 1103.5,1403.4 1106.5,1402.6 1109.5,1401.8 1112.5,1401.1 1115.5,1400.3 1118.5,1399.5 1121.5,1398.7 1124.5,1397.9 1127.5,1397.1 1130.5,1396.3 1133.5,1395.5 1136.5,1394.7 1139.5,1393.9 1142.5,1393.1 1145.5,1392.3 1148.5,1391.5 1151.5,1390.7 1154.5,1389.9 1157.5,1389.1 1160.5,1388.3 1163.5,1387.5 1166.5,1386.7 1169.5,1385.9 1172.5,1385.1 1175.5,1384.3 1178.5,1383.4 1181.5,1382.6 1184.5,1381.8 1187.5,1381 1190.5,1380.2 1193.5,1379.3 1196.5,1378.5 1199.5,1377.7 1202.5,1376.9 1205.5,1376 1208.5,1375.2 1211.5,1374.4 1214.5,1373.5 1217.5,1372.7 1220.5,1371.9 1223.5,1371 1226.5,1370.2 1229.5,1369.4 1232.5,1368.5 1235.5,1367.7 1238.5,1366.8 1241.5,1366 1244.5,1365.1 1247.5,1364.3 1250.5,1363.4 1253.5,1362.6 1256.5,1361.7 1259.5,1360.9 1262.5,1360 1265.5,1359.2 1268.5,1358.3 1271.5,1357.5 1274.5,1356.6 1277.5,1355.8 1280.5,1354.9 1283.5,1354.1 1286.5,1353.2 1289.5,1352.3 1292.5,1351.5 1295.5,1350.6 1298.5,1349.8 1301.5,1348.9 1304.5,1348 1307.5,1347.2 1310.5,1346.3 1313.5,1345.4 1316.5,1344.6 1319.5,1343.7 1322.5,1342.8 1325.5,1342 1328.5,1341.1 1331.5,1340.2 1334.5,1339.3 1337.5,1338.5 1340.5,1337.6 1343.5,1336.7 1346.5,1335.9 1349.5,1335 1352.5,1334.1 1355.5,1333.2 1358.5,1332.3 1361.5,1331.5 1364.5,1330.6 1367.5,1329.7 1370.5,1328.8 1373.5,1328 1376.5,1327.1 1379.5,1326.2 1382.5,1325.3 1385.5,1324.4 1388.5,1323.5 1391.5,1322.7 1394.5,1321.8 1397.5,1320.9 1400.5,1320 1403.5,1319.1 1406.5,1318.2 1409.5,1317.4 1412.5,1316.5 1415.5,1315.6 1418.5,1314.7 1421.5,1313.8 1424.5,1312.9 1427.5,1312 1430.5,1311.2 1433.5,1310.3 1436.5,1309.4 1439.5,1308.5 1442.5,1307.6 1445.5,1306.7 1448.5,1305.8 1451.5,1305 1454.5,1304.1 1457.5,1303.2 1460.5,1302.3 1463.5,1301.4 1466.5,1300.5 1469.5,1299.6 1472.5,1298.7 1475.5,1297.8 1478.5,1297 1481.5,1296.1 1484.5,1295.2 1487.5,1294.3 1490.5,1293.4 1493.5,1292.5 1496.5,1291.6 1499.5,1290.7 1502.5,1289.8 1505.5,1289 1508.5,1288.1 1511.5,1287.2 1514.5,1286.3 1517.5,1285.4 1520.5,1284.5 1523.5,1283.6 1526.5,1282.7 1529.5,1281.9 1532.5,1281 1535.5,1280.1 1538.5,1279.2 1541.5,1278.3 1544.5,1277.4 1547.5,1276.5 1550.5,1275.7 1553.5,1274.8 1556.5,1273.9 1559.5,1273 1562.5,1272.1 1565.5,1271.2 1568.5,1270.4 1571.5,1269.5 1574.5,1268.6 1577.5,1267.7 1580.5,1266.8 1583.5,1266 1586.5,1265.1 1589.5,1264.2 1592.5,1263.3 1595.5,1262.4 1598.5,1261.6 1601.5,1260.7 1604.5,1259.8 1607.5,1258.9 1610.5,1258.1 1613.5,1257.2 1616.5,1256.3 1619.5,1255.4 1622.5,1254.6 1625.5,1253.7 1628.5,1252.8 1631.5,1252 1634.5,1251.1 1637.5,1250.2 1640.5,1249.4 1643.5,1248.5 1646.5,1247.6 1649.5,1246.8 1652.5,1245.9 1655.5,1245 1658.5,1244.2 1661.5,1243.3 1664.5,1242.4 1667.5,1241.6 1670.5,1240.7 1673.5,1239.9 1676.5,1239 1679.5,1238.1 1682.5,1237.3 1685.5,1236.4 1688.5,1235.6 1691.5,1234.7 1694.5,1233.9 1697.5,1233 1700.5,1232.2 1703.5,1231.3 1706.5,1230.5 1709.5,1229.6 1712.5,1228.8 1715.5,1227.9 1718.5,1227.1 1721.5,1226.2 1724.5,1225.4 1727.5,1224.6 1730.5,1223.7 1733.5,1222.9 1736.5,1222.1 1739.5,1221.2 1742.5,1220.4 1745.5,1219.6 1748.5,1218.7 1751.5,1217.9 1754.5,1217.1 1757.5,1216.2 1760.5,1215.4 1763.5,1214.6 1766.5,1213.8 1769.5,1212.9 1772.5,1212.1 1775.5,1211.3 1778.5,1210.5 1781.5,1209.7 1784.5,1208.9 1787.5,1208 1790.5,1207.2 1791.5,1207"/>
<polyline class="cv" stroke="#ff00ff" points="260.5,1509 263.5,1509 266.5,1509 269.5,1509 272.5,1509 275.5,1509 278.5,1509 281.5,1509 284.5,1509 287.5,1509 290.5,1509 293.5,1509 296.5,1509 299.5,1509 302.5,1509 305.5,1509 308.5,1509 311.5,1508.9 314.5,1508.9 317.5,1508.9 320.5,1508.8 323.5,1508.8 326.5,1508.7 329.5,1508.7 332.5,1508.6 335.5,1508.6 338.5,1508.6 341.5,1508.6 344.5,1508.6 347.5,1508.6 350.5,1508.6 353.5,1508.6 356.5,1508.6 359.5,1508.6 362.5,1508.6 365.5,1508.6 368.5,1508.6 371.5,1508.6 374.5,1508.6 377.5,1508.6 380.5,1508.6 383.5,1508.6 386.5,1508.6 389.5,1508.6 392.5,1508.6 395.5,1508.6 398.5,1508.6 401.5,1508.6 404.5,1508.6 407.5,1508.7 410.5,1508.7 413.5,1508.8 416.5,1508.8 419.5,1508.8 422.5,1508.8 425.5,1508.9 428.5,1508.9 431.5,1508.9 434.5,1508.9 437.5,1508.9 440.5,1508.9 443.5,1508.8 446.5,1508.8 449.5,1508.8 452.5,1508.8 455.5,1508.7 458.5,1508.7 461.5,1508.7 464.5,1508.6 467.5,1508.6 470.5,1508.5 473.5,1508.5 476.5,1508.4 479.5,1508.3 482.5,1508.3 485.5,1508.2 488.5,1508.1 491.5,1508 494.5,1507.9 497.5,1507.8 500.5,1507.7 503.5,1507.6 506.5,1507.5 509.5,1507.4 512.5,1507.3 515.5,1507.1 518.5,1507 521.5,1506.9 524.5,1506.7 527.5,1506.6 530.5,1506.5 533.5,1506.3 536.5,1506.2 539.5,1506 542.5,1505.8 545.5,1505.7 548.5,1505.5 551.5,1505.3 554.5,1505.1 557.5,1505 560.5,1504.8 563.5,1504.6 566.5,1504.4 569.5,1504.2 572.5,1504 575.5,1503.8 578.5,1503.5 581.5,1503.3 584.5,1503.1 587.5,1502.9 590.5,1502.7 593.5,1502.4 596.5,1502.2 599.5,1501.9 602.5,1501.7 605.5,1501.4 608.5,1501.2 611.5,1500.9 614.5,1500.7 617.5,1500.4 620.5,1500.1 623.5,1499.9 626.5,1499.6 629.5,1499.3 632.5,1499 635.5,1498.7 638.5,1498.4 641.5,1498.1 644.5,1497.8 647.5,1497.5 650.5,1497.2 653.5,1496.9 656.5,1496.6 659.5,1496.3 662.5,1495.9 665.5,1495.6 668.5,1495.3 671.5,1494.9 674.5,1494.6 677.5,1494.3 680.5,1493.9 683.5,1493.6 686.5,1493.2 689.5,1492.8 692.5,1492.5 695.5,1492.1 698.5,1491.8 701.5,1491.4 704.5,1491 707.5,1490.6 710.5,1490.2 713.5,1489.9 716.5,1489.5 719.5,1489.1 722.5,1488.7 725.5,1488.3 728.5,1487.9 731.5,1487.5 734.5,1487.1 737.5,1486.6 740.5,1486.2 743.5,1485.8 746.5,1485.4 749.5,1484.9 752.5,1484.5 755.5,1484.1 758.5,1483.6 761.5,1483.2 764.5,1482.8 767.5,1482.3 770.5,1481.9 773.5,1481.4 776.5,1481 779.5,1480.5 782.5,1480 785.5,1479.6 788.5,1479.1 791.5,1478.6 794.5,1478.1 797.5,1477.7 800.5,1477.2 803.5,1476.7 806.5,1476.2 809.5,1475.7 812.5,1475.2 815.5,1474.7 818.5,1474.2 821.5,1473.7 824.5,1473.2 827.5,1472.7 830.5,1472.2 833.5,1471.7 836.5,1471.1 839.5,1470.6 842.5,1470.1 845.5,1469.6 848.5,1469 851.5,1468.5 854.5,1468 857.5,1467.4 860.5,1466.9 863.5,1466.3 866.5,1465.8 869.5,1465.2 872.5,1464.7 875.5,1464.1 878.5,1463.6 881.5,1463 884.5,1462.4 887.5,1461.9 890.5,1461.3 893.5,1460.7 896.5,1460.2 899.5,1459.6 902.5,1459 905.5,1458.4 908.5,1457.8 911.5,1457.2 914.5,1456.7 917.5,1456.1 920.5,1455.5 923.5,1454.9 926.5,1454.3 929.5,1453.7 932.5,1453 935.5,1452.4 938.5,1451.8 941.5,1451.2 944.5,1450.6 947.5,1450 950.5,1449.4 953.5,1448.7 956.5,1448.1 959.5,1447.5 962.5,1446.8 965.5,1446.2 968.5,1445.6 971.5,1444.9 974.5,1444.3 977.5,1443.7 980.5,1443 983.5,1442.4 986.5,1441.7 989.5,1441.1 992.5,1440.4 995.5,1439.8 998.5,1439.1 1001.5,1438.4 1004.5,1437.8 1007.5,1437.1 1010.5,1436.4 1013.5,1435.8 1016.5,1435.1 1019.5,1434.4 1022.5,1433.7 1025.5,1433.1 1028.5,1432.4 1031.5,1431.7 1034.5,1431 1037.5,1430.3 1040.5,1429.6 1043.5,1429 1046.5,1428.3 1049.5,1427.6 1052.5,1426.9 1055.5,1426.2 1058.5,1425.5 1061.5,1424.8 1064.5,1424.1 1067.5,1423.4 1070.5,1422.7 1073.5,1422 1076.5,1421.2 1079.5,1420.5 1082.5,1419.8 1085.5,1419.1 1088.5,1418.4 1091.5,1417.7 1094.5,1416.9 1097.5,1416.2 1100.5,1415.5 1103.5,1414.8 1106.5,1414 1109.5,1413.3 1112.5,1412.6 1115.5,1411.8 1118.5,1411.1 1121.5,1410.4 1124.5,1409.6 1127.5,1408.9 1130.5,1408.1 1133.5,1407.4 1136.5,1406.6 1139.5,1405.9 1142.5,1405.2 1145.5,1404.4 1148.5,1403.7 1151.5,1402.9 1154.5,1402.1 1157.5,1401.4 1160.5,1400.6 1163.5,1399.9 1166.5,1399.1 1169.5,1398.4 1172.5,1397.6 1175.5,1396.8 1178.5,1396.1 1181.5,1395.3 1184.5,1394.5 1187.5,1393.8 1190.5,1393 1193.5,1392.2 1196.5,1391.4 1199.5,1390.7 1202.5,1389.9 1205.5,1389.1 1208.5,1388.3 1211.5,1387.5 1214.5,1386.8 1217.5,1386 1220.5,1385.2 1223.5,1384.4 1226.5,1383.6 1229.5,1382.8 1232.5,1382.1 1235.5,1381.3 1238.5,1380.5 1241.5,1379.7 1244.5,1378.9 1247.5,1378.1 1250.5,1377.3 1253.5,1376.5 1256.5,1375.7 1259.5,1374.9 1262.5,1374.1 1265.5,1373.3 1268.5,1372.5 1271.5,1371.7 1274.5,1370.9 1277.5,1370.1 1280.5,1369.3 1283.5,1368.5 1286.5,1367.7 1289.5,1366.9 1292.5,1366.1 1295.5,1365.3 1298.5,1364.5 1301.5,1363.6 1304.5,1362.8 1307.5,1362 1310.5,1361.2 1313.5,1360.4 1316.5,1359.6 1319.5,1358.8 1322.5,1357.9 1325.5,1357.1 1328.5,1356.3 1331.5,1355.5 1334.5,1354.7 1337.5,1353.9 1340.5,1353 1343.5,1352.2 1346.5,1351.4 1349.5,1350.6 1352.5,1349.8 1355.5,1348.9 1358.5,1348.1 1361.5,1347.3 1364.5,1346.5 1367.5,1345.6 1370.5,1344.8 1373.5,1344 1376.5,1343.2 1379.5,1342.3 1382.5,1341.5 1385.5,1340.7 1388.5,1339.8 1391.5,1339 1394.5,1338.2 1397.5,1337.4 1400.5,1336.5 1403.5,1335.7 1406.5,1334.9 1409.5,1334 1412.5,1333.2 1415.5,1332.4 1418.5,1331.6 1421.5,1330.7 1424.5,1329.9 1427.5,1329.1 1430.5,1328.2 1433.5,1327.4 1436.5,1326.6 1439.5,1325.7 1442.5,1324.9 1445.5,1324.1 1448.5,1323.2 1451.5,1322.4 1454.5,1321.6 1457.5,1320.7 1460.5,1319.9 1463.5,1319.1 1466.5,1318.2 1469.5,1317.4 1472.5,1316.6 1475.5,1315.7 1478.5,1314.9 1481.5,1314.1 1484.5,1313.2 1487.5,1312.4 1490.5,1311.6 1493.5,1310.7 1496.5,1309.9 1499.5,1309.1 1502.5,1308.2 1505.5,1307.4 1508.5,1306.6 1511.5,1305.7 1514.5,1304.9 1517.5,1304.1 1520.5,1303.2 1523.5,1302.4 1526.5,1301.6 1529.5,1300.7 1532.5,1299.9 1535.5,1299.1 1538.5,1298.2 1541.5,1297.4 1544.5,1296.6 1547.5,1295.8 1550.5,1294.9 1553.5,1294.1 1556.5,1293.3 1559.5,1292.4 1562.5,1291.6 1565.5,1290.8 1568.5,1290 1571.5,1289.1 1574.5,1288.3 1577.5,1287.5 1580.5,1286.7 1583.5,1285.8 1586.5,1285 1589.5,1284.2 1592.5,1283.4 1595.5,1282.5 1598.5,1281.7 1601.5,1280.9 1604.5,1280.1 1607.5,1279.3 1610.5,1278.4 1613.5,1277.6 1616.5,1276.8 1619.5,1276 1622.5,1275.2 1625.5,1274.4 1628.5,1273.5 1631.5,1272.7 1634.5,1271.9 1637.5,1271.1 1640.5,1270.3 1643.5,1269.5 1646.5,1268.7 1649.5,1267.9 1652.5,1267 1655.5,1266.2 1658.5,1265.4 1661.5,1264.6 1664.5,1263.8 1667.5,1263 1670.5,1262.2 1673.5,1261.4 1676.5,1260.6 1679.5,1259.8 1682.5,1259 1685.5,1258.2 1688.5,1257.4 1691.5,1256.6 1694.5,1255.8 1697.5,1255 1700.5,1254.2 1703.5,1253.4 1706.5,1252.6 1709.5,1251.8 1712.5,1251.1 1715.5,1250.3 1718.5,1249.5 1721.5,1248.7 1724.5,1247.9 1727.5,1247.1 1730.5,1246.3 1733.5,1245.6 1736.5,1244.8 1739.5,1244 1742.5,1243.2 1745.5,1242.4 1748.5,1241.7 1751.5,1240.9 1754.5,1240.1 1757.5,1239.3 1760.5,1238.6 1763.5,1237.8 1766.5,1237 1769.5,1236.3 1772.5,1235.5 1775.5,1234.7 1778.5,1234 1781.5,1233.2 1784.5,1232.5 1787.5,1231.7 1790.5,1231 1791.5,1230.7"/>
<polyline class="cv" stroke="#ffff00" points="260.5,1515.6 263.5,1515.6 266.5,1515.6 269.5,1515.6 272.5,1515.6 275.5,1515.6 278.5,1515.6 281.5,1515.6 284.5,1515.5 287.5,1515.5 290.5,1515.5 293.5,1515.5 296.5,1515.5 299.5,1515.5 302.5,1515.4 305.5,1515.4 308.5,1515.4 311.5,1515.3 314.5,1515.3 317.5,1515.3 320.5,1515.3 323.5,1515.2 326.5,1515.2 329.5,1515.2 332.5,1515.2 335.5,1515.2 338.5,1515.2 341.5,1515.2 344.5,1515.2 347.5,1515.2 350.5,1515.2 353.5,1515.2 356.5,1515.2 359.5,1515.2 362.5,1515.2 365.5,1515.2 368.5,1515.2 371.5,1515.2 374.5,1515 377.5,1514.7 380.5,1514.5 383.5,1514.2 386.5,1513.9 389.5,1513.6 392.5,1513.3 395.5,1513 398.5,1512.7 401.5,1512.4 404.5,1512.1 407.5,1511.8 410.5,1511.5 413.5,1511.2 416.5,1510.8 419.5,1510.5 422.5,1510.2 425.5,1509.8 428.5,1509.5 431.5,1509.1 434.5,1508.8 437.5,1508.4 440.5,1508.1 443.5,1507.7 446.5,1507.3 449.5,1507 452.5,1506.6 455.5,1506.2 458.5,1505.8 461.5,1505.4 464.5,1505 467.5,1504.6 470.5,1504.2 473.5,1503.8 476.5,1503.4 479.5,1503 482.5,1502.6 485.5,1502.2 488.5,1501.7 491.5,1501.3 494.5,1500.9 497.5,1500.5 500.5,1500 503.5,1499.6 506.5,1499.1 509.5,1498.7 512.5,1498.2 515.5,1497.8 518.5,1497.3 521.5,1496.8 524.5,1496.4 527.5,1495.9 530.5,1495.4 533.5,1494.9 536.5,1494.4 539.5,1494 542.5,1493.5 545.5,1493 548.5,1492.5 551.5,1492 554.5,1491.5 557.5,1491 560.5,1490.4 563.5,1489.9 566.5,1489.4 569.5,1488.9 572.5,1488.4 575.5,1487.8 578.5,1487.3 581.5,1486.8 584.5,1486.2 587.5,1485.7 590.5,1485.1 593.5,1484.6 596.5,1484 599.5,1483.5 602.5,1482.9 605.5,1482.3 608.5,1481.8 611.5,1481.2 614.5,1480.6 617.5,1480.1 620.5,1479.5 623.5,1478.9 626.5,1478.3 629.5,1477.7 632.5,1477.1 635.5,1476.5 638.5,1475.9 641.5,1475.3 644.5,1474.7 647.5,1474.1 650.5,1473.5 653.5,1472.9 656.5,1472.3 659.5,1471.7 662.5,1471 665.5,1470.4 668.5,1469.8 671.5,1469.2 674.5,1468.5 677.5,1467.9 680.5,1467.2 683.5,1466.6 686.5,1466 689.5,1465.3 692.5,1464.7 695.5,1464 698.5,1463.3 701.5,1462.7 704.5,1462 707.5,1461.4 710.5,1460.7 713.5,1460 716.5,1459.3 719.5,1458.7 722.5,1458 725.5,1457.3 728.5,1456.6 731.5,1455.9 734.5,1455.3 737.5,1454.6 740.5,1453.9 743.5,1453.2 746.5,1452.5 749.5,1451.8 752.5,1451.1 755.5,1450.4 758.5,1449.7 761.5,1449 764.5,1448.2 767.5,1447.5 770.5,1446.8 773.5,1446.1 776.5,1445.4 779.5,1444.6 782.5,1443.9 785.5,1443.2 788.5,1442.5 791.5,1441.7 794.5,1441 797.5,1440.2 800.5,1439.5 803.5,1438.8 806.5,1438 809.5,1437.3 812.5,1436.5 815.5,1435.8 818.5,1435 821.5,1434.3 824.5,1433.5 827.5,1432.7 830.5,1432 833.5,1431.2 836.5,1430.5 839.5,1429.7 842.5,1428.9 845.5,1428.1 848.5,1427.4 851.5,1426.6 854.5,1425.8 857.5,1425 860.5,1424.3 863.5,1423.5 866.5,1422.7 869.5,1421.9 872.5,1421.1 875.5,1420.3 878.5,1419.5 881.5,1418.7 884.5,1417.9 887.5,1417.1 890.5,1416.4 893.5,1415.6 896.5,1414.7 899.5,1413.9 902.5,1413.1 905.5,1412.3 908.5,1411.5 911.5,1410.7 914.5,1409.9 917.5,1409.1 920.5,1408.3 923.5,1407.5 926.5,1406.6 929.5,1405.8 932.5,1405 935.5,1404.2 938.5,1403.3 941.5,1402.5 944.5,1401.7 947.5,1400.9 950.5,1400 953.5,1399.2 956.5,1398.4 959.5,1397.5 962.5,1396.7 965.5,1395.9 968.5,1395 971.5,1394.2 974.5,1393.3 977.5,1392.5 980.5,1391.7 983.5,1390.8 986.5,1390 989.5,1389.1 992.5,1388.3 995.5,1387.4 998.5,1386.6 1001.5,1385.7 1004.5,1384.9 1007.5,1384 1010.5,1383.2 1013.5,1382.3 1016.5,1381.5 1019.5,1380.6 1022.5,1379.7 1025.5,1378.9 1028.5,1378 1031.5,1377.2 1034.5,1376.3 1037.5,1375.4 1040.5,1374.6 1043.5,1373.7 1046.5,1372.8 1049.5,1372 1052.5,1371.1 1055.5,1370.2 1058.5,1369.4 1061.5,1368.5 1064.5,1367.6 1067.5,1366.8 1070.5,1365.9 1073.5,1365 1076.5,1364.1 1079.5,1363.3 1082.5,1362.4 1085.5,1361.5 1088.5,1360.6 1091.5,1359.8 1094.5,1358.9 1097.5,1358 1100.5,1357.1 1103.5,1356.2 1106.5,1355.4 1109.5,1354.5 1112.5,1353.6 1115.5,1352.7 1118.5,1351.8 1121.5,1351 1124.5,1350.1 1127.5,1349.2 1130.5,1348.3 1133.5,1347.4 1136.5,1346.5 1139.5,1345.7 1142.5,1344.8 1145.5,1343.9 1148.5,1343 1151.5,1342.1 1154.5,1341.2 1157.5,1340.3 1160.5,1339.5 1163.5,1338.6 1166.5,1337.7 1169.5,1336.8 1172.5,1335.9 1175.5,1335 1178.5,1334.1 1181.5,1333.2 1184.5,1332.3 1187.5,1331.5 1190.5,1330.6 1193.5,1329.7 1196.5,1328.8 1199.5,1327.9 1202.5,1327 1205.5,1326.1 1208.5,1325.2 1211.5,1324.3 1214.5,1323.4 1217.5,1322.5 1220.5,1321.7 1223.5,1320.8 1226.5,1319.9 1229.5,1319 1232.5,1318.1 1235.5,1317.2 1238.5,1316.3 1241.5,1315.4 1244.5,1314.5 1247.5,1313.6 1250.5,1312.7 1253.5,1311.8 1256.5,1310.9 1259.5,1310.1 1262.5,1309.2 1265.5,1308.3 1268.5,1307.4 1271.5,1306.5 1274.5,1305.6 1277.5,1304.7 1280.5,1303.8 1283.5,1302.9 1286.5,1302 1289.5,1301.1 1292.5,1300.2 1295.5,1299.3 1298.5,1298.5 1301.5,1297.6 1304.5,1296.7 1307.5,1295.8 1310.5,1294.9 1313.5,1294 1316.5,1293.1 1319.5,1292.2 1322.5,1291.3 1325.5,1290.4 1328.5,1289.5 1331.5,1288.6 1334.5,1287.8 1337.5,1286.9 1340.5,1286 1343.5,1285.1 1346.5,1284.2 1349.5,1283.3 1352.5,1282.4 1355.5,1281.5 1358.5,1280.6 1361.5,1279.8 1364.5,1278.9 1367.5,1278 1370.5,1277.1 1373.5,1276.2 1376.5,1275.3 1379.5,1274.4 1382.5,1273.5 1385.5,1272.7 1388.5,1271.8 1391.5,1270.9 1394.5,1270 1397.5,1269.1 1400.5,1268.2 1403.5,1267.3 1406.5,1266.5 1409.5,1265.6 1412.5,1264.7 1415.5,1263.8 1418.5,1262.9 1421.5,1262.1 1424.5,1261.2 1427.5,1260.3 1430.5,1259.4 1433.5,1258.5 1436.5,1257.7 1439.5,1256.8 1442.5,1255.9 1445.5,1255 1448.5,1254.1 1451.5,1253.3 1454.5,1252.4 1457.5,1251.5 1460.5,1250.6 1463.5,1249.8 1466.5,1248.9 1469.5,1248 1472.5,1247.1 1475.5,1246.3 1478.5,1245.4 1481.5,1244.5 1484.5,1243.7 1487.5,1242.8 1490.5,1241.9 1493.5,1241 1496.5,1240.2 1499.5,1239.3 1502.5,1238.4 1505.5,1237.6 1508.5,1236.7 1511.5,1235.9 1514.5,1235 1517.5,1234.1 1520.5,1233.3 1523.5,1232.4 1526.5,1231.5 1529.5,1230.7 1532.5,1229.8 1535.5,1229 1538.5,1228.1 1541.5,1227.2 1544.5,1226.4 1547.5,1225.5 1550.5,1224.7 1553.5,1223.8 1556.5,1223 1559.5,1222.1 1562.5,1221.3 1565.5,1220.4 1568.5,1219.6 1571.5,1218.7 1574.5,1217.9 1577.5,1217 1580.5,1216.2 1583.5,1215.3 1586.5,1214.5 1589.5,1213.6 1592.5,1212.8 1595.5,1212 1598.5,1211.1 1601.5,1210.3 1604.5,1209.4 1607.5,1208.6 1610.5,1207.8 1613.5,1206.9 1616.5,1206.1 1619.5,1205.3 1622.5,1204.4 1625.5,1203.6 1628.5,1202.8 1631.5,1201.9 1634.5,1201.1 1637.5,1200.3 1640.5,1199.4 1643.5,1198.6 1646.5,1197.8 1649.5,1197 1652.5,1196.1 1655.5,1195.3 1658.5,1194.5 1661.5,1193.7 1664.5,1192.9 1667.5,1192 1670.5,1191.2 1673.5,1190.4 1676.5,1189.6 1679.5,1188.8 1682.5,1188 1685.5,1187.2 1688.5,1186.4 1691.5,1185.5 1694.5,1184.7 1697.5,1183.9 1700.5,1183.1 1703.5,1182.3 1706.5,1181.5 1709.5,1180.7 1712.5,1179.9 1715.5,1179.1 1718.5,1178.3 1721.5,1177.5 1724.5,1176.7 1727.5,1175.9 1730.5,1175.2 1733.5,1174.4 1736.5,1173.6 1739.5,1172.8 1742.5,1172 1745.5,1171.2 1748.5,1170.4 1751.5,1169.6 1754.5,1168.9 1757.5,1168.1 1760.5,1167.3 1763.5,1166.5 1766.5,1165.8 1769.5,1165 1772.5,1164.2 1775.5,1163.4 1778.5,1162.7 1781.5,1161.9 1784.5,1161.1 1787.5,1160.4 1790.5,1159.6 1791.5,1159.3"/>
<polyline class="cv" stroke="#00ff00" points="260.5,1508 263.5,1508 266.5,1508 269.5,1507.9 272.5,1507.9 275.5,1507.8 278.5,1507.8 281.5,1507.7 284.5,1507.6 287.5,1507.5 290.5,1507.4 293.5,1507.3 296.5,1507.2 299.5,1507 302.5,1506.9 305.5,1506.8 308.5,1506.8 311.5,1506.7 314.5,1506.5 317.5,1506.1 320.5,1505.7 323.5,1505.1 326.5,1504.6 329.5,1503.9 332.5,1503.2 335.5,1502.5 338.5,1501.8 341.5,1501.1 344.5,1500.3 347.5,1499.5 350.5,1498.8 353.5,1498 356.5,1497.2 359.5,1496.4 362.5,1495.6 365.5,1494.8 368.5,1494 371.5,1493.1 374.5,1492.3 377.5,1491.5 380.5,1490.6 383.5,1489.8 386.5,1488.9 389.5,1488 392.5,1487.1 395.5,1486.2 398.5,1485.3 401.5,1484.4 404.5,1483.5 407.5,1482.6 410.5,1481.7 413.5,1480.8 416.5,1479.8 419.5,1478.9 422.5,1477.9 425.5,1476.9 428.5,1476 431.5,1475 434.5,1474 437.5,1473 440.5,1472 443.5,1471 446.5,1470 449.5,1469 452.5,1468 455.5,1467 458.5,1466 461.5,1464.9 464.5,1463.9 467.5,1462.8 470.5,1461.8 473.5,1460.7 476.5,1459.6 479.5,1458.6 482.5,1457.5 485.5,1456.4 488.5,1455.3 491.5,1454.2 494.5,1453.1 497.5,1452 500.5,1450.9 503.5,1449.8 506.5,1448.7 509.5,1447.6 512.5,1446.4 515.5,1445.3 518.5,1444.2 521.5,1443 524.5,1441.9 527.5,1440.7 530.5,1439.6 533.5,1438.4 536.5,1437.3 539.5,1436.1 542.5,1434.9 545.5,1433.7 548.5,1432.6 551.5,1431.4 554.5,1430.2 557.5,1429 560.5,1427.8 563.5,1426.6 566.5,1425.4 569.5,1424.2 572.5,1423 575.5,1421.8 578.5,1420.5 581.5,1419.3 584.5,1418.1 587.5,1416.9 590.5,1415.6 593.5,1414.4 596.5,1413.2 599.5,1411.9 602.5,1410.7 605.5,1409.5 608.5,1408.2 611.5,1407 614.5,1405.7 617.5,1404.5 620.5,1403.2 623.5,1401.9 626.5,1400.7 629.5,1399.4 632.5,1398.1 635.5,1396.9 638.5,1395.6 641.5,1394.3 644.5,1393.1 647.5,1391.8 650.5,1390.5 653.5,1389.2 656.5,1388 659.5,1386.7 662.5,1385.4 665.5,1384.1 668.5,1382.8 671.5,1381.5 674.5,1380.2 677.5,1379 680.5,1377.7 683.5,1376.4 686.5,1375.1 689.5,1373.8 692.5,1372.5 695.5,1371.2 698.5,1369.9 701.5,1368.6 704.5,1367.3 707.5,1366 710.5,1364.7 713.5,1363.4 716.5,1362.1 719.5,1360.8 722.5,1359.5 725.5,1358.2 728.5,1356.9 731.5,1355.7 734.5,1354.4 737.5,1353.1 740.5,1351.8 743.5,1350.5 746.5,1349.2 749.5,1347.9 752.5,1346.6 755.5,1345.3 758.5,1344 761.5,1342.7 764.5,1341.4 767.5,1340.1 770.5,1338.8 773.5,1337.5 776.5,1336.3 779.5,1335 782.5,1333.7 785.5,1332.4 788.5,1331.1 791.5,1329.8 794.5,1328.6 797.5,1327.3 800.5,1326 803.5,1324.7 806.5,1323.5 809.5,1322.2 812.5,1320.9 815.5,1319.7 818.5,1318.4 821.5,1317.1 824.5,1315.9 827.5,1314.6 830.5,1313.4 833.5,1312.1 836.5,1310.9 839.5,1309.6 842.5,1308.4 845.5,1307.1 848.5,1305.9 851.5,1304.7 854.5,1303.4 857.5,1302.2 860.5,1301 863.5,1299.7 866.5,1298.5 869.5,1297.3 872.5,1296.1 875.5,1294.9 878.5,1293.6 881.5,1292.4 884.5,1291.2 887.5,1290 890.5,1288.8 893.5,1287.6 896.5,1286.4 899.5,1285.2 902.5,1284 905.5,1282.8 908.5,1281.6 911.5,1280.4 914.5,1279.2 917.5,1278.1 920.5,1276.9 923.5,1275.7 926.5,1274.5 929.5,1273.3 932.5,1272.2 935.5,1271 938.5,1269.8 941.5,1268.7 944.5,1267.5 947.5,1266.3 950.5,1265.2 953.5,1264 956.5,1262.9 959.5,1261.7 962.5,1260.6 965.5,1259.4 968.5,1258.3 971.5,1257.1 974.5,1256 977.5,1254.9 980.5,1253.7 983.5,1252.6 986.5,1251.5 989.5,1250.3 992.5,1249.2 995.5,1248.1 998.5,1247 1001.5,1245.9 1004.5,1244.7 1007.5,1243.6 1010.5,1242.5 1013.5,1241.4 1016.5,1240.3 1019.5,1239.2 1022.5,1238.1 1025.5,1237 1028.5,1235.9 1031.5,1234.8 1034.5,1233.7 1037.5,1232.6 1040.5,1231.5 1043.5,1230.4 1046.5,1229.4 1049.5,1228.3 1052.5,1227.2 1055.5,1226.1 1058.5,1225 1061.5,1224 1064.5,1222.9 1067.5,1221.8 1070.5,1220.8 1073.5,1219.7 1076.5,1218.6 1079.5,1217.6 1082.5,1216.5 1085.5,1215.5 1088.5,1214.4 1091.5,1213.4 1094.5,1212.3 1097.5,1211.3 1100.5,1210.2 1103.5,1209.2 1106.5,1208.1 1109.5,1207.1 1112.5,1206.1 1115.5,1205 1118.5,1204 1121.5,1203 1124.5,1201.9 1127.5,1200.9 1130.5,1199.9 1133.5,1198.9 1136.5,1197.9 1139.5,1196.8 1142.5,1195.8 1145.5,1194.8 1148.5,1193.8 1151.5,1192.8 1154.5,1191.8 1157.5,1190.8 1160.5,1189.8 1163.5,1188.8 1166.5,1187.8 1169.5,1186.8 1172.5,1185.8 1175.5,1184.8 1178.5,1183.8 1181.5,1182.8 1184.5,1181.9 1187.5,1180.9 1190.5,1179.9 1193.5,1178.9 1196.5,1177.9 1199.5,1177 1202.5,1176 1205.5,1175 1208.5,1174.1 1211.5,1173.1 1214.5,1172.1 1217.5,1171.2 1220.5,1170.2 1223.5,1169.3 1226.5,1168.3 1229.5,1167.4 1232.5,1166.4 1235.5,1165.5 1238.5,1164.5 1241.5,1163.6 1244.5,1162.6 1247.5,1161.7 1250.5,1160.7 1253.5,1159.8 1256.5,1158.9 1259.5,1157.9 1262.5,1157 1265.5,1156.1 1268.5,1155.2 1271.5,1154.2 1274.5,1153.3 1277.5,1152.4 1280.5,1151.5 1283.5,1150.6 1286.5,1149.6 1289.5,1148.7 1292.5,1147.8 1295.5,1146.9 1298.5,1146 1301.5,1145.1 1304.5,1144.2 1307.5,1143.3 1310.5,1142.4 1313.5,1141.5 1316.5,1140.6 1319.5,1139.7 1322.5,1138.8 1325.5,1137.9 1328.5,1137.1 1331.5,1136.2 1334.5,1135.3 1337.5,1134.4 1340.5,1133.5 1343.5,1132.7 1346.5,1131.8 1349.5,1130.9 1352.5,1130 1355.5,1129.2 1358.5,1128.3 1361.5,1127.4 1364.5,1126.6 1367.5,1125.7 1370.5,1124.9 1373.5,1124 1376.5,1123.1 1379.5,1122.3 1382.5,1121.4 1385.5,1120.6 1388.5,1119.7 1391.5,1118.9 1394.5,1118.1 1397.5,1117.2 1400.5,1116.4 1403.5,1115.5 1406.5,1114.7 1409.5,1113.9 1412.5,1113 1415.5,1112.2 1418.5,1111.4 1421.5,1110.5 1424.5,1109.7 1427.5,1108.9 1430.5,1108.1 1433.5,1107.3 1436.5,1106.4 1439.5,1105.6 1442.5,1104.8 1445.5,1104 1448.5,1103.2 1451.5,1102.4 1454.5,1101.6 1457.5,1100.8 1460.5,1100 1463.5,1099.2 1466.5,1098.4 1469.5,1097.6 1472.5,1096.8 1475.5,1096 1478.5,1095.2 1481.5,1094.4 1484.5,1093.6 1487.5,1092.8 1490.5,1092 1493.5,1091.3 1496.5,1090.5 1499.5,1089.7 1502.5,1088.9 1505.5,1088.1 1508.5,1087.4 1511.5,1086.6 1514.5,1085.8 1517.5,1085.1 1520.5,1084.3 1523.5,1083.5 1526.5,1082.8 1529.5,1082 1532.5,1081.2 1535.5,1080.5 1538.5,1079.7 1541.5,1079 1544.5,1078.2 1547.5,1077.5 1550.5,1076.7 1553.5,1076 1556.5,1075.2 1559.5,1074.5 1562.5,1073.7 1565.5,1073 1568.5,1072.3 1571.5,1071.5 1574.5,1070.8 1577.5,1070.1 1580.5,1069.3 1583.5,1068.6 1586.5,1067.9 1589.5,1067.1 1592.5,1066.4 1595.5,1065.7 1598.5,1065 1601.5,1064.2 1604.5,1063.5 1607.5,1062.8 1610.5,1062.1 1613.5,1061.4 1616.5,1060.7 1619.5,1060 1622.5,1059.2 1625.5,1058.5 1628.5,1057.8 1631.5,1057.1 1634.5,1056.4 1637.5,1055.7 1640.5,1055 1643.5,1054.3 1646.5,1053.6 1649.5,1052.9 1652.5,1052.3 1655.5,1051.6 1658.5,1050.9 1661.5,1050.2 1664.5,1049.5 1667.5,1048.8 1670.5,1048.1 1673.5,1047.5 1676.5,1046.8 1679.5,1046.1 1682.5,1045.4 1685.5,1044.7 1688.5,1044.1 1691.5,1043.4 1694.5,1042.7 1697.5,1042.1 1700.5,1041.4 1703.5,1040.7 1706.5,1040.1 1709.5,1039.4 1712.5,1038.7 1715.5,1038.1 1718.5,1037.4 1721.5,1036.8 1724.5,1036.1 1727.5,1035.5 1730.5,1034.8 1733.5,1034.2 1736.5,1033.5 1739.5,1032.9 1742.5,1032.2 1745.5,1031.6 1748.5,1030.9 1751.5,1030.3 1754.5,1029.7 1757.5,1029 1760.5,1028.4 1763.5,1027.8 1766.5,1027.1 1769.5,1026.5 1772.5,1025.9 1775.5,1025.2 1778.5,1024.6 1781.5,1024 1784.5,1023.4 1787.5,1022.7 1790.5,1022.1 1791.5,1021.9"/>
<polyline class="cv" stroke="#00ffff" points="260.5,1508 263.5,1508 266.5,1508 269.5,1508 272.5,1508 275.5,1508 278.5,1508 281.5,1508 284.5,1508 287.5,1507.6 290.5,1506.8 293.5,1505.7 296.5,1504.5 299.5,1503.5 302.5,1502.4 305.5,1501.2 308.5,1499.9 311.5,1498.3 314.5,1495.8 317.5,1492.9 320.5,1490.3 323.5,1488 326.5,1485.6 329.5,1483.2 332.5,1480.7 335.5,1478.2 338.5,1475.6 341.5,1473 344.5,1470.3 347.5,1467.7 350.5,1465.1 353.5,1462.5 356.5,1459.9 359.5,1457.3 362.5,1454.7 365.5,1452.1 368.5,1449.5 371.5,1446.9 374.5,1444.3 377.5,1441.7 380.5,1439.1 383.5,1436.5 386.5,1434 389.5,1431.4 392.5,1428.8 395.5,1426.2 398.5,1423.7 401.5,1421.1 404.5,1418.5 407.5,1416 410.5,1413.4 413.5,1410.8 416.5,1408.3 419.5,1405.7 422.5,1403.2 425.5,1400.7 428.5,1398.1 431.5,1395.6 434.5,1393 437.5,1390.5 440.5,1388 443.5,1385.5 446.5,1382.9 449.5,1380.4 452.5,1377.9 455.5,1375.4 458.5,1372.9 461.5,1370.4 464.5,1367.9 467.5,1365.4 470.5,1362.9 473.5,1360.4 476.5,1357.9 479.5,1355.4 482.5,1353 485.5,1350.5 488.5,1348 491.5,1345.6 494.5,1343.1 497.5,1340.6 500.5,1338.2 503.5,1335.7 506.5,1333.3 509.5,1330.8 512.5,1328.4 515.5,1326 518.5,1323.5 521.5,1321.1 524.5,1318.7 527.5,1316.3 530.5,1313.9 533.5,1311.5 536.5,1309.1 539.5,1306.7 542.5,1304.3 545.5,1301.9 548.5,1299.5 551.5,1297.1 554.5,1294.7 557.5,1292.4 560.5,1290 563.5,1287.6 566.5,1285.3 569.5,1282.9 572.5,1280.6 575.5,1278.2 578.5,1275.9 581.5,1273.6 584.5,1271.2 587.5,1268.9 590.5,1266.6 593.5,1264.3 596.5,1262 599.5,1259.7 602.5,1257.4 605.5,1255.1 608.5,1252.8 611.5,1250.5 614.5,1248.3 617.5,1246 620.5,1243.7 623.5,1241.5 626.5,1239.2 629.5,1237 632.5,1234.7 635.5,1232.5 638.5,1230.3 641.5,1228 644.5,1225.8 647.5,1223.6 650.5,1221.4 653.5,1219.2 656.5,1217 659.5,1214.8 662.5,1212.6 665.5,1210.5 668.5,1208.3 671.5,1206.1 674.5,1204 677.5,1201.8 680.5,1199.7 683.5,1197.5 686.5,1195.4 689.5,1193.3 692.5,1191.2 695.5,1189 698.5,1186.9 701.5,1184.8 704.5,1182.7 707.5,1180.6 710.5,1178.6 713.5,1176.5 716.5,1174.4 719.5,1172.4 722.5,1170.3 725.5,1168.2 728.5,1166.2 731.5,1164.2 734.5,1162.1 737.5,1160.1 740.5,1158.1 743.5,1156.1 746.5,1154.1 749.5,1152.1 752.5,1150.1 755.5,1148.1 758.5,1146.2 761.5,1144.2 764.5,1142.2 767.5,1140.3 770.5,1138.3 773.5,1136.4 776.5,1134.5 779.5,1132.6 782.5,1130.6 785.5,1128.7 788.5,1126.8 791.5,1124.9 794.5,1123.1 797.5,1121.2 800.5,1119.3 803.5,1117.5 806.5,1115.6 809.5,1113.8 812.5,1111.9 815.5,1110.1 818.5,1108.3 821.5,1106.5 824.5,1104.6 827.5,1102.8 830.5,1101 833.5,1099.3 836.5,1097.5 839.5,1095.7 842.5,1094 845.5,1092.2 848.5,1090.4 851.5,1088.7 854.5,1087 857.5,1085.2 860.5,1083.5 863.5,1081.8 866.5,1080.1 869.5,1078.4 872.5,1076.7 875.5,1075 878.5,1073.4 881.5,1071.7 884.5,1070 887.5,1068.4 890.5,1066.7 893.5,1065.1 896.5,1063.4 899.5,1061.8 902.5,1060.2 905.5,1058.6 908.5,1057 911.5,1055.4 914.5,1053.8 917.5,1052.2 920.5,1050.6 923.5,1049 926.5,1047.5 929.5,1045.9 932.5,1044.4 935.5,1042.8 938.5,1041.3 941.5,1039.7 944.5,1038.2 947.5,1036.7 950.5,1035.2 953.5,1033.7 956.5,1032.2 959.5,1030.7 962.5,1029.2 965.5,1027.7 968.5,1026.2 971.5,1024.8 974.5,1023.3 977.5,1021.8 980.5,1020.4 983.5,1018.9 986.5,1017.5 989.5,1016.1 992.5,1014.6 995.5,1013.2 998.5,1011.8 1001.5,1010.4 1004.5,1009 1007.5,1007.6 1010.5,1006.2 1013.5,1004.8 1016.5,1003.5 1019.5,1002.1 1022.5,1000.7 1025.5,999.4 1028.5,998 1031.5,996.7 1034.5,995.3 1037.5,994 1040.5,992.7 1043.5,991.3 1046.5,990 1049.5,988.7 1052.5,987.4 1055.5,986.1 1058.5,984.8 1061.5,983.5 1064.5,982.2 1067.5,981 1070.5,979.7 1073.5,978.4 1076.5,977.2 1079.5,975.9 1082.5,974.7 1085.5,973.4 1088.5,972.2 1091.5,971 1094.5,969.7 1097.5,968.5 1100.5,967.3 1103.5,966.1 1106.5,964.9 1109.5,963.7 1112.5,962.5 1115.5,961.3 1118.5,960.1 1121.5,958.9 1124.5,957.7 1127.5,956.6 1130.5,955.4 1133.5,954.2 1136.5,953.1 1139.5,951.9 1142.5,950.8 1145.5,949.7 1148.5,948.5 1151.5,947.4 1154.5,946.3 1157.5,945.1 1160.5,944 1163.5,942.9 1166.5,941.8 1169.5,940.7 1172.5,939.6 1175.5,938.5 1178.5,937.4 1181.5,936.4 1184.5,935.3 1187.5,934.2 1190.5,933.2 1193.5,932.1 1196.5,931 1199.5,930 1202.5,928.9 1205.5,927.9 1208.5,926.8 1211.5,925.8 1214.5,924.8 1217.5,923.8 1220.5,922.7 1223.5,921.7 1226.5,920.7 1229.5,919.7 1232.5,918.7 1235.5,917.7 1238.5,916.7 1241.5,915.7 1244.5,914.7 1247.5,913.7 1250.5,912.8 1253.5,911.8 1256.5,910.8 1259.5,909.9 1262.5,908.9 1265.5,907.9 1268.5,907 1271.5,906 1274.5,905.1 1277.5,904.1 1280.5,903.2 1283.5,902.3 1286.5,901.3 1289.5,900.4 1292.5,899.5 1295.5,898.6 1298.5,897.7 1301.5,896.8 1304.5,895.8 1307.5,894.9 1310.5,894 1313.5,893.2 1316.5,892.3 1319.5,891.4 1322.5,890.5 1325.5,889.6 1328.5,888.7 1331.5,887.9 1334.5,887 1337.5,886.1 1340.5,885.3 1343.5,884.4 1346.5,883.5 1349.5,882.7 1352.5,881.8 1355.5,881 1358.5,880.2 1361.5,879.3 1364.5,878.5 1367.5,877.7 1370.5,876.8 1373.5,876 1376.5,875.2 1379.5,874.4 1382.5,873.5 1385.5,872.7 1388.5,871.9 1391.5,871.1 1394.5,870.3 1397.5,869.5 1400.5,868.7 1403.5,867.9 1406.5,867.1 1409.5,866.3 1412.5,865.6 1415.5,864.8 1418.5,864 1421.5,863.2 1424.5,862.4 1427.5,861.7 1430.5,860.9 1433.5,860.1 1436.5,859.4 1439.5,858.6 1442.5,857.9 1445.5,857.1 1448.5,856.4 1451.5,855.6 1454.5,854.9 1457.5,854.1 1460.5,853.4 1463.5,852.6 1466.5,851.9 1469.5,851.2 1472.5,850.4 1475.5,849.7 1478.5,849 1481.5,848.3 1484.5,847.5 1487.5,846.8 1490.5,846.1 1493.5,845.4 1496.5,844.7 1499.5,844 1502.5,843.3 1505.5,842.5 1508.5,841.8 1511.5,841.1 1514.5,840.4 1517.5,839.8 1520.5,839.1 1523.5,838.4 1526.5,837.7 1529.5,837 1532.5,836.3 1535.5,835.6 1538.5,834.9 1541.5,834.3 1544.5,833.6 1547.5,832.9 1550.5,832.2 1553.5,831.6 1556.5,830.9 1559.5,830.2 1562.5,829.5 1565.5,828.9 1568.5,828.2 1571.5,827.6 1574.5,826.9 1577.5,826.2 1580.5,825.6 1583.5,824.9 1586.5,824.3 1589.5,823.6 1592.5,823 1595.5,822.3 1598.5,821.7 1601.5,821 1604.5,820.4 1607.5,819.7 1610.5,819.1 1613.5,818.5 1616.5,817.8 1619.5,817.2 1622.5,816.6 1625.5,815.9 1628.5,815.3 1631.5,814.7 1634.5,814 1637.5,813.4 1640.5,812.8 1643.5,812.1 1646.5,811.5 1649.5,810.9 1652.5,810.3 1655.5,809.6 1658.5,809 1661.5,808.4 1664.5,807.8 1667.5,807.2 1670.5,806.5 1673.5,805.9 1676.5,805.3 1679.5,804.7 1682.5,804.1 1685.5,803.5 1688.5,802.9 1691.5,802.2 1694.5,801.6 1697.5,801 1700.5,800.4 1703.5,799.8 1706.5,799.2 1709.5,798.6 1712.5,798 1715.5,797.4 1718.5,796.8 1721.5,796.2 1724.5,795.6 1727.5,795 1730.5,794.4 1733.5,793.8 1736.5,793.2 1739.5,792.6 1742.5,791.9 1745.5,791.3 1748.5,790.7 1751.5,790.1 1754.5,789.5 1757.5,788.9 1760.5,788.3 1763.5,787.7 1766.5,787.2 1769.5,786.6 1772.5,786 1775.5,785.4 1778.5,784.8 1781.5,784.2 1784.5,783.6 1787.5,783 1790.5,782.4 1791.5,782.2"/>
<polyline class="cv" stroke="#0000ff" points="260.5,1508.5 263.5,1508.5 266.5,1508.5 269.5,1508.4 272.5,1508.3 275.5,1508.3 278.5,1508.2 281.5,1508 284.5,1507.5 287.5,1505.9 290.5,1503.7 293.5,1501.2 296.5,1498.6 299.5,1495.5 302.5,1491.7 305.5,1487.4 308.5,1483.3 311.5,1479.7 314.5,1475.8 317.5,1471.7 320.5,1467.3 323.5,1462.6 326.5,1457.7 329.5,1452.9 332.5,1448.2 335.5,1443.5 338.5,1438.9 341.5,1434.4 344.5,1429.8 347.5,1425.3 350.5,1420.7 353.5,1416.2 356.5,1411.7 359.5,1407.2 362.5,1402.8 365.5,1398.3 368.5,1393.9 371.5,1389.4 374.5,1385 377.5,1380.6 380.5,1376.2 383.5,1371.9 386.5,1367.5 389.5,1363.2 392.5,1358.9 395.5,1354.5 398.5,1350.3 401.5,1346 404.5,1341.7 407.5,1337.5 410.5,1333.3 413.5,1329 416.5,1324.8 419.5,1320.7 422.5,1316.5 425.5,1312.4 428.5,1308.2 431.5,1304.1 434.5,1300 437.5,1296 440.5,1291.9 443.5,1287.8 446.5,1283.8 449.5,1279.8 452.5,1275.8 455.5,1271.8 458.5,1267.9 461.5,1263.9 464.5,1260 467.5,1256.1 470.5,1252.2 473.5,1248.4 476.5,1244.5 479.5,1240.7 482.5,1236.8 485.5,1233 488.5,1229.3 491.5,1225.5 494.5,1221.7 497.5,1218 500.5,1214.3 503.5,1210.6 506.5,1206.9 509.5,1203.3 512.5,1199.7 515.5,1196 518.5,1192.4 521.5,1188.9 524.5,1185.3 527.5,1181.7 530.5,1178.2 533.5,1174.7 536.5,1171.2 539.5,1167.8 542.5,1164.3 545.5,1160.9 548.5,1157.5 551.5,1154.1 554.5,1150.7 557.5,1147.3 560.5,1144 563.5,1140.7 566.5,1137.4 569.5,1134.1 572.5,1130.9 575.5,1127.6 578.5,1124.4 581.5,1121.2 584.5,1118 587.5,1114.9 590.5,1111.8 593.5,1108.6 596.5,1105.5 599.5,1102.5 602.5,1099.4 605.5,1096.4 608.5,1093.3 611.5,1090.3 614.5,1087.4 617.5,1084.4 620.5,1081.5 623.5,1078.5 626.5,1075.6 629.5,1072.7 632.5,1069.9 635.5,1067 638.5,1064.2 641.5,1061.4 644.5,1058.6 647.5,1055.8 650.5,1053 653.5,1050.3 656.5,1047.5 659.5,1044.8 662.5,1042.1 665.5,1039.5 668.5,1036.8 671.5,1034.1 674.5,1031.5 677.5,1028.9 680.5,1026.3 683.5,1023.7 686.5,1021.2 689.5,1018.6 692.5,1016.1 695.5,1013.6 698.5,1011.1 701.5,1008.6 704.5,1006.1 707.5,1003.7 710.5,1001.2 713.5,998.8 716.5,996.4 719.5,994 722.5,991.6 725.5,989.3 728.5,986.9 731.5,984.6 734.5,982.3 737.5,980 740.5,977.7 743.5,975.4 746.5,973.1 749.5,970.9 752.5,968.6 755.5,966.4 758.5,964.2 761.5,962 764.5,959.8 767.5,957.7 770.5,955.5 773.5,953.4 776.5,951.2 779.5,949.1 782.5,947 785.5,944.9 788.5,942.8 791.5,940.8 794.5,938.7 797.5,936.7 800.5,934.6 803.5,932.6 806.5,930.6 809.5,928.6 812.5,926.6 815.5,924.6 818.5,922.6 821.5,920.7 824.5,918.7 827.5,916.8 830.5,914.9 833.5,913 836.5,911.1 839.5,909.2 842.5,907.3 845.5,905.4 848.5,903.6 851.5,901.7 854.5,899.9 857.5,898 860.5,896.2 863.5,894.4 866.5,892.6 869.5,890.8 872.5,889 875.5,887.3 878.5,885.5 881.5,883.8 884.5,882 887.5,880.3 890.5,878.6 893.5,876.8 896.5,875.1 899.5,873.5 902.5,871.8 905.5,870.1 908.5,868.4 911.5,866.8 914.5,865.1 917.5,863.5 920.5,861.9 923.5,860.3 926.5,858.7 929.5,857.1 932.5,855.5 935.5,853.9 938.5,852.4 941.5,850.8 944.5,849.3 947.5,847.7 950.5,846.2 953.5,844.7 956.5,843.2 959.5,841.7 962.5,840.2 965.5,838.7 968.5,837.2 971.5,835.8 974.5,834.3 977.5,832.9 980.5,831.4 983.5,830 986.5,828.6 989.5,827.2 992.5,825.8 995.5,824.4 998.5,823 1001.5,821.6 1004.5,820.2 1007.5,818.9 1010.5,817.5 1013.5,816.2 1016.5,814.9 1019.5,813.5 1022.5,812.2 1025.5,810.9 1028.5,809.6 1031.5,808.3 1034.5,807 1037.5,805.7 1040.5,804.5 1043.5,803.2 1046.5,801.9 1049.5,800.7 1052.5,799.5 1055.5,798.2 1058.5,797 1061.5,795.8 1064.5,794.6 1067.5,793.4 1070.5,792.2 1073.5,791 1076.5,789.8 1079.5,788.6 1082.5,787.5 1085.5,786.3 1088.5,785.1 1091.5,784 1094.5,782.8 1097.5,781.7 1100.5,780.6 1103.5,779.5 1106.5,778.4 1109.5,777.2 1112.5,776.1 1115.5,775.1 1118.5,774 1121.5,772.9 1124.5,771.8 1127.5,770.7 1130.5,769.7 1133.5,768.6 1136.5,767.6 1139.5,766.5 1142.5,765.5 1145.5,764.5 1148.5,763.5 1151.5,762.4 1154.5,761.4 1157.5,760.4 1160.5,759.4 1163.5,758.4 1166.5,757.4 1169.5,756.5 1172.5,755.5 1175.5,754.5 1178.5,753.6 1181.5,752.6 1184.5,751.6 1187.5,750.7 1190.5,749.8 1193.5,748.8 1196.5,747.9 1199.5,747 1202.5,746.1 1205.5,745.1 1208.5,744.2 1211.5,743.3 1214.5,742.4 1217.5,741.5 1220.5,740.6 1223.5,739.8 1226.5,738.9 1229.5,738 1232.5,737.2 1235.5,736.3 1238.5,735.4 1241.5,734.6 1244.5,733.7 1247.5,732.9 1250.5,732.1 1253.5,731.2 1256.5,730.4 1259.5,729.6 1262.5,728.7 1265.5,727.9 1268.5,727.1 1271.5,726.3 1274.5,725.5 1277.5,724.7 1280.5,723.9 1283.5,723.1 1286.5,722.3 1289.5,721.6 1292.5,720.8 1295.5,720 1298.5,719.3 1301.5,718.5 1304.5,717.7 1307.5,717 1310.5,716.2 1313.5,715.5 1316.5,714.7 1319.5,714 1322.5,713.3 1325.5,712.5 1328.5,711.8 1331.5,711.1 1334.5,710.3 1337.5,709.6 1340.5,708.9 1343.5,708.2 1346.5,707.5 1349.5,706.8 1352.5,706.1 1355.5,705.4 1358.5,704.7 1361.5,704 1364.5,703.3 1367.5,702.6 1370.5,701.9 1373.5,701.3 1376.5,700.6 1379.5,699.9 1382.5,699.3 1385.5,698.6 1388.5,697.9 1391.5,697.3 1394.5,696.6 1397.5,696 1400.5,695.3 1403.5,694.7 1406.5,694 1409.5,693.4 1412.5,692.7 1415.5,692.1 1418.5,691.5 1421.5,690.8 1424.5,690.2 1427.5,689.6 1430.5,689 1433.5,688.4 1436.5,687.7 1439.5,687.1 1442.5,686.5 1445.5,685.9 1448.5,685.3 1451.5,684.7 1454.5,684.1 1457.5,683.5 1460.5,682.9 1463.5,682.3 1466.5,681.7 1469.5,681.2 1472.5,680.6 1475.5,680 1478.5,679.4 1481.5,678.9 1484.5,678.3 1487.5,677.7 1490.5,677.1 1493.5,676.6 1496.5,676 1499.5,675.5 1502.5,674.9 1505.5,674.4 1508.5,673.8 1511.5,673.2 1514.5,672.7 1517.5,672.2 1520.5,671.6 1523.5,671.1 1526.5,670.5 1529.5,670 1532.5,669.5 1535.5,668.9 1538.5,668.4 1541.5,667.9 1544.5,667.4 1547.5,666.8 1550.5,666.3 1553.5,665.8 1556.5,665.3 1559.5,664.8 1562.5,664.3 1565.5,663.7 1568.5,663.2 1571.5,662.7 1574.5,662.2 1577.5,661.7 1580.5,661.2 1583.5,660.7 1586.5,660.2 1589.5,659.7 1592.5,659.2 1595.5,658.8 1598.5,658.3 1601.5,657.8 1604.5,657.3 1607.5,656.8 1610.5,656.3 1613.5,655.8 1616.5,655.4 1619.5,654.9 1622.5,654.4 1625.5,653.9 1628.5,653.5 1631.5,653 1634.5,652.5 1637.5,652.1 1640.5,651.6 1643.5,651.1 1646.5,650.7 1649.5,650.2 1652.5,649.8 1655.5,649.3 1658.5,648.8 1661.5,648.4 1664.5,647.9 1667.5,647.5 1670.5,647 1673.5,646.6 1676.5,646.1 1679.5,645.7 1682.5,645.2 1685.5,644.8 1688.5,644.4 1691.5,643.9 1694.5,643.5 1697.5,643 1700.5,642.6 1703.5,642.2 1706.5,641.7 1709.5,641.3 1712.5,640.9 1715.5,640.4 1718.5,640 1721.5,639.6 1724.5,639.1 1727.5,638.7 1730.5,638.3 1733.5,637.9 1736.5,637.4 1739.5,637 1742.5,636.6 1745.5,636.2 1748.5,635.7 1751.5,635.3 1754.5,634.9 1757.5,634.5 1760.5,634.1 1763.5,633.7 1766.5,633.2 1769.5,632.8 1772.5,632.4 1775.5,632 1778.5,631.6 1781.5,631.2 1784.5,630.8 1787.5,630.3 1790.5,629.9 1791.5,629.8"/>
<polyline class="cv" stroke="#000000" points="260.5,1508.5 263.5,1508.5 266.5,1508.5 269.5,1508.4 272.5,1508.3 275.5,1508.2 278.5,1508.1 281.5,1507.6 284.5,1505.5 287.5,1502.2 290.5,1498.6 293.5,1494.8 296.5,1490.4 299.5,1485.4 302.5,1480 305.5,1474.4 308.5,1468.1 311.5,1461.4 314.5,1454.3 317.5,1447 320.5,1439.7 323.5,1432.4 326.5,1425.3 329.5,1418.1 332.5,1411 335.5,1404 338.5,1397.1 341.5,1390.2 344.5,1383.4 347.5,1376.7 350.5,1370 353.5,1363.4 356.5,1356.8 359.5,1350.2 362.5,1343.7 365.5,1337.2 368.5,1330.7 371.5,1324.3 374.5,1317.9 377.5,1311.6 380.5,1305.3 383.5,1299 386.5,1292.8 389.5,1286.6 392.5,1280.4 395.5,1274.3 398.5,1268.2 401.5,1262.2 404.5,1256.2 407.5,1250.2 410.5,1244.3 413.5,1238.4 416.5,1232.6 419.5,1226.7 422.5,1221 425.5,1215.2 428.5,1209.5 431.5,1203.8 434.5,1198.2 437.5,1192.6 440.5,1187.1 443.5,1181.5 446.5,1176.1 449.5,1170.6 452.5,1165.2 455.5,1159.8 458.5,1154.5 461.5,1149.2 464.5,1144 467.5,1138.7 470.5,1133.6 473.5,1128.4 476.5,1123.3 479.5,1118.2 482.5,1113.2 485.5,1108.2 488.5,1103.2 491.5,1098.3 494.5,1093.4 497.5,1088.6 500.5,1083.8 503.5,1079 506.5,1074.3 509.5,1069.6 512.5,1064.9 515.5,1060.3 518.5,1055.7 521.5,1051.1 524.5,1046.6 527.5,1042.2 530.5,1037.7 533.5,1033.4 536.5,1029 539.5,1024.7 542.5,1020.5 545.5,1016.3 548.5,1012.2 551.5,1008.1 554.5,1004 557.5,1000 560.5,996.1 563.5,992.2 566.5,988.3 569.5,984.5 572.5,980.7 575.5,977 578.5,973.3 581.5,969.7 584.5,966.1 587.5,962.5 590.5,959 593.5,955.5 596.5,952.1 599.5,948.7 602.5,945.3 605.5,942 608.5,938.7 611.5,935.4 614.5,932.2 617.5,928.9 620.5,925.8 623.5,922.6 626.5,919.5 629.5,916.4 632.5,913.3 635.5,910.2 638.5,907.2 641.5,904.2 644.5,901.2 647.5,898.2 650.5,895.3 653.5,892.4 656.5,889.5 659.5,886.6 662.5,883.7 665.5,880.9 668.5,878 671.5,875.2 674.5,872.5 677.5,869.7 680.5,867 683.5,864.3 686.5,861.6 689.5,858.9 692.5,856.2 695.5,853.6 698.5,851 701.5,848.4 704.5,845.8 707.5,843.2 710.5,840.7 713.5,838.1 716.5,835.6 719.5,833.1 722.5,830.7 725.5,828.2 728.5,825.8 731.5,823.4 734.5,821 737.5,818.6 740.5,816.2 743.5,813.9 746.5,811.6 749.5,809.2 752.5,807 755.5,804.7 758.5,802.4 761.5,800.2 764.5,797.9 767.5,795.7 770.5,793.5 773.5,791.4 776.5,789.2 779.5,787.1 782.5,784.9 785.5,782.8 788.5,780.7 791.5,778.6 794.5,776.6 797.5,774.5 800.5,772.5 803.5,770.5 806.5,768.4 809.5,766.5 812.5,764.5 815.5,762.5 818.5,760.6 821.5,758.6 824.5,756.7 827.5,754.8 830.5,752.9 833.5,751 836.5,749.2 839.5,747.3 842.5,745.5 845.5,743.6 848.5,741.8 851.5,740 854.5,738.2 857.5,736.5 860.5,734.7 863.5,733 866.5,731.2 869.5,729.5 872.5,727.8 875.5,726.1 878.5,724.4 881.5,722.7 884.5,721.1 887.5,719.4 890.5,717.8 893.5,716.2 896.5,714.6 899.5,713 902.5,711.4 905.5,709.8 908.5,708.2 911.5,706.7 914.5,705.1 917.5,703.6 920.5,702.1 923.5,700.6 926.5,699.1 929.5,697.6 932.5,696.1 935.5,694.7 938.5,693.2 941.5,691.8 944.5,690.4 947.5,688.9 950.5,687.5 953.5,686.1 956.5,684.8 959.5,683.4 962.5,682 965.5,680.7 968.5,679.3 971.5,678 974.5,676.7 977.5,675.3 980.5,674 983.5,672.7 986.5,671.5 989.5,670.2 992.5,668.9 995.5,667.7 998.5,666.4 1001.5,665.2 1004.5,663.9 1007.5,662.7 1010.5,661.5 1013.5,660.3 1016.5,659.1 1019.5,657.9 1022.5,656.8 1025.5,655.6 1028.5,654.4 1031.5,653.3 1034.5,652.2 1037.5,651 1040.5,649.9 1043.5,648.8 1046.5,647.7 1049.5,646.6 1052.5,645.5 1055.5,644.4 1058.5,643.3 1061.5,642.3 1064.5,641.2 1067.5,640.2 1070.5,639.1 1073.5,638.1 1076.5,637 1079.5,636 1082.5,635 1085.5,634 1088.5,633 1091.5,632 1094.5,631 1097.5,630 1100.5,629.1 1103.5,628.1 1106.5,627.1 1109.5,626.2 1112.5,625.3 1115.5,624.3 1118.5,623.4 1121.5,622.5 1124.5,621.5 1127.5,620.6 1130.5,619.7 1133.5,618.8 1136.5,617.9 1139.5,617 1142.5,616.1 1145.5,615.3 1148.5,614.4 1151.5,613.5 1154.5,612.7 1157.5,611.8 1160.5,610.9 1163.5,610.1 1166.5,609.3 1169.5,608.4 1172.5,607.6 1175.5,606.8 1178.5,605.9 1181.5,605.1 1184.5,604.3 1187.5,603.5 1190.5,602.7 1193.5,601.9 1196.5,601.1 1199.5,600.4 1202.5,599.6 1205.5,598.8 1208.5,598 1211.5,597.3 1214.5,596.5 1217.5,595.8 1220.5,595 1223.5,594.3 1226.5,593.5 1229.5,592.8 1232.5,592.1 1235.5,591.3 1238.5,590.6 1241.5,589.9 1244.5,589.2 1247.5,588.5 1250.5,587.8 1253.5,587.1 1256.5,586.4 1259.5,585.7 1262.5,585 1265.5,584.3 1268.5,583.7 1271.5,583 1274.5,582.3 1277.5,581.7 1280.5,581 1283.5,580.3 1286.5,579.7 1289.5,579.1 1292.5,578.4 1295.5,577.8 1298.5,577.1 1301.5,576.5 1304.5,575.9 1307.5,575.3 1310.5,574.7 1313.5,574.1 1316.5,573.4 1319.5,572.8 1322.5,572.2 1325.5,571.6 1328.5,571.1 1331.5,570.5 1334.5,569.9 1337.5,569.3 1340.5,568.7 1343.5,568.2 1346.5,567.6 1349.5,567 1352.5,566.5 1355.5,565.9 1358.5,565.4 1361.5,564.8 1364.5,564.3 1367.5,563.7 1370.5,563.2 1373.5,562.6 1376.5,562.1 1379.5,561.6 1382.5,561.1 1385.5,560.5 1388.5,560 1391.5,559.5 1394.5,559 1397.5,558.5 1400.5,558 1403.5,557.5 1406.5,557 1409.5,556.5 1412.5,556 1415.5,555.5 1418.5,555 1421.5,554.5 1424.5,554.1 1427.5,553.6 1430.5,553.1 1433.5,552.6 1436.5,552.2 1439.5,551.7 1442.5,551.2 1445.5,550.8 1448.5,550.3 1451.5,549.9 1454.5,549.4 1457.5,549 1460.5,548.5 1463.5,548.1 1466.5,547.7 1469.5,547.2 1472.5,546.8 1475.5,546.4 1478.5,545.9 1481.5,545.5 1484.5,545.1 1487.5,544.7 1490.5,544.3 1493.5,543.8 1496.5,543.4 1499.5,543 1502.5,542.6 1505.5,542.2 1508.5,541.8 1511.5,541.4 1514.5,541 1517.5,540.6 1520.5,540.2 1523.5,539.8 1526.5,539.4 1529.5,539 1532.5,538.7 1535.5,538.3 1538.5,537.9 1541.5,537.5 1544.5,537.1 1547.5,536.8 1550.5,536.4 1553.5,536 1556.5,535.7 1559.5,535.3 1562.5,534.9 1565.5,534.6 1568.5,534.2 1571.5,533.9 1574.5,533.5 1577.5,533.1 1580.5,532.8 1583.5,532.4 1586.5,532.1 1589.5,531.7 1592.5,531.4 1595.5,531 1598.5,530.7 1601.5,530.4 1604.5,530 1607.5,529.7 1610.5,529.3 1613.5,529 1616.5,528.7 1619.5,528.3 1622.5,528 1625.5,527.7 1628.5,527.4 1631.5,527 1634.5,526.7 1637.5,526.4 1640.5,526.1 1643.5,525.7 1646.5,525.4 1649.5,525.1 1652.5,524.8 1655.5,524.5 1658.5,524.1 1661.5,523.8 1664.5,523.5 1667.5,523.2 1670.5,522.9 1673.5,522.6 1676.5,522.3 1679.5,522 1682.5,521.6 1685.5,521.3 1688.5,521 1691.5,520.7 1694.5,520.4 1697.5,520.1 1700.5,519.8 1703.5,519.5 1706.5,519.2 1709.5,518.9 1712.5,518.6 1715.5,518.3 1718.5,518 1721.5,517.7 1724.5,517.4 1727.5,517.1 1730.5,516.8 1733.5,516.5 1736.5,516.2 1739.5,515.9 1742.5,515.6 1745.5,515.3 1748.5,515 1751.5,514.7 1754.5,514.4 1757.5,514.1 1760.5,513.8 1763.5,513.6 1766.5,513.3 1769.5,513 1772.5,512.7 1775.5,512.4 1778.5,512.1 1781.5,511.8 1784.5,511.5 1787.5,511.2 1790.5,510.9 1791.5,510.8"/>
<polyline class="cv" stroke="#9900cc" points="260.5,1508.5 263.5,1508.5 266.5,1508.4 269.5,1508.4 272.5,1508.3 275.5,1508.1 278.5,1507.9 281.5,1505.9 284.5,1502.1 287.5,1497.7 290.5,1493.2 293.5,1487.9 296.5,1482.1 299.5,1476 302.5,1469.8 305.5,1463.3 308.5,1456.4 311.5,1449.3 314.5,1442.2 317.5,1435 320.5,1427.8 323.5,1420.7 326.5,1413.5 329.5,1406.3 332.5,1399.1 335.5,1392 338.5,1384.9 341.5,1377.9 344.5,1370.9 347.5,1364 350.5,1357 353.5,1350.1 356.5,1343.2 359.5,1336.3 362.5,1329.5 365.5,1322.6 368.5,1315.8 371.5,1309 374.5,1302.2 377.5,1295.5 380.5,1288.8 383.5,1282.1 386.5,1275.4 389.5,1268.8 392.5,1262.2 395.5,1255.6 398.5,1249.1 401.5,1242.5 404.5,1236.1 407.5,1229.6 410.5,1223.2 413.5,1216.8 416.5,1210.4 419.5,1204.1 422.5,1197.8 425.5,1191.6 428.5,1185.4 431.5,1179.2 434.5,1173 437.5,1166.9 440.5,1160.9 443.5,1154.9 446.5,1148.9 449.5,1143 452.5,1137.1 455.5,1131.2 458.5,1125.4 461.5,1119.6 464.5,1113.9 467.5,1108.3 470.5,1102.6 473.5,1097.1 476.5,1091.5 479.5,1086 482.5,1080.6 485.5,1075.2 488.5,1069.9 491.5,1064.6 494.5,1059.4 497.5,1054.2 500.5,1049.1 503.5,1044 506.5,1039 509.5,1034.1 512.5,1029.2 515.5,1024.3 518.5,1019.5 521.5,1014.8 524.5,1010.1 527.5,1005.5 530.5,1000.9 533.5,996.4 536.5,992 539.5,987.5 542.5,983.2 545.5,978.9 548.5,974.6 551.5,970.4 554.5,966.2 557.5,962.1 560.5,958 563.5,954 566.5,950 569.5,946.1 572.5,942.2 575.5,938.4 578.5,934.6 581.5,930.8 584.5,927.1 587.5,923.4 590.5,919.7 593.5,916.1 596.5,912.6 599.5,909.1 602.5,905.6 605.5,902.1 608.5,898.7 611.5,895.3 614.5,892 617.5,888.7 620.5,885.4 623.5,882.1 626.5,878.9 629.5,875.7 632.5,872.5 635.5,869.4 638.5,866.3 641.5,863.2 644.5,860.1 647.5,857.1 650.5,854 653.5,851 656.5,848 659.5,845 662.5,842.1 665.5,839.2 668.5,836.3 671.5,833.4 674.5,830.5 677.5,827.6 680.5,824.8 683.5,822 686.5,819.2 689.5,816.4 692.5,813.7 695.5,811 698.5,808.3 701.5,805.6 704.5,802.9 707.5,800.2 710.5,797.6 713.5,795 716.5,792.4 719.5,789.8 722.5,787.3 725.5,784.7 728.5,782.2 731.5,779.7 734.5,777.2 737.5,774.7 740.5,772.3 743.5,769.9 746.5,767.4 749.5,765.1 752.5,762.7 755.5,760.3 758.5,758 761.5,755.7 764.5,753.3 767.5,751.1 770.5,748.8 773.5,746.5 776.5,744.3 779.5,742.1 782.5,739.9 785.5,737.7 788.5,735.5 791.5,733.4 794.5,731.2 797.5,729.1 800.5,727 803.5,724.9 806.5,722.9 809.5,720.8 812.5,718.8 815.5,716.7 818.5,714.7 821.5,712.7 824.5,710.8 827.5,708.8 830.5,706.9 833.5,704.9 836.5,703 839.5,701.1 842.5,699.2 845.5,697.4 848.5,695.5 851.5,693.7 854.5,691.9 857.5,690 860.5,688.2 863.5,686.5 866.5,684.7 869.5,682.9 872.5,681.2 875.5,679.5 878.5,677.8 881.5,676.1 884.5,674.4 887.5,672.7 890.5,671.1 893.5,669.4 896.5,667.8 899.5,666.2 902.5,664.6 905.5,663 908.5,661.4 911.5,659.9 914.5,658.3 917.5,656.8 920.5,655.3 923.5,653.8 926.5,652.3 929.5,650.8 932.5,649.3 935.5,647.8 938.5,646.4 941.5,644.9 944.5,643.5 947.5,642.1 950.5,640.7 953.5,639.3 956.5,637.9 959.5,636.6 962.5,635.2 965.5,633.9 968.5,632.5 971.5,631.2 974.5,629.9 977.5,628.6 980.5,627.3 983.5,626.1 986.5,624.8 989.5,623.5 992.5,622.3 995.5,621 998.5,619.8 1001.5,618.6 1004.5,617.4 1007.5,616.2 1010.5,615 1013.5,613.8 1016.5,612.7 1019.5,611.5 1022.5,610.4 1025.5,609.2 1028.5,608.1 1031.5,607 1034.5,605.9 1037.5,604.8 1040.5,603.7 1043.5,602.6 1046.5,601.6 1049.5,600.5 1052.5,599.4 1055.5,598.4 1058.5,597.4 1061.5,596.3 1064.5,595.3 1067.5,594.3 1070.5,593.3 1073.5,592.3 1076.5,591.3 1079.5,590.3 1082.5,589.3 1085.5,588.4 1088.5,587.4 1091.5,586.5 1094.5,585.5 1097.5,584.6 1100.5,583.7 1103.5,582.7 1106.5,581.8 1109.5,580.9 1112.5,580 1115.5,579.1 1118.5,578.2 1121.5,577.4 1124.5,576.5 1127.5,575.6 1130.5,574.8 1133.5,573.9 1136.5,573.1 1139.5,572.2 1142.5,571.4 1145.5,570.5 1148.5,569.7 1151.5,568.9 1154.5,568.1 1157.5,567.3 1160.5,566.5 1163.5,565.7 1166.5,564.9 1169.5,564.1 1172.5,563.3 1175.5,562.5 1178.5,561.8 1181.5,561 1184.5,560.2 1187.5,559.5 1190.5,558.7 1193.5,558 1196.5,557.2 1199.5,556.5 1202.5,555.8 1205.5,555.1 1208.5,554.3 1211.5,553.6 1214.5,552.9 1217.5,552.2 1220.5,551.5 1223.5,550.8 1226.5,550.1 1229.5,549.4 1232.5,548.8 1235.5,548.1 1238.5,547.4 1241.5,546.7 1244.5,546.1 1247.5,545.4 1250.5,544.8 1253.5,544.1 1256.5,543.5 1259.5,542.8 1262.5,542.2 1265.5,541.6 1268.5,541 1271.5,540.3 1274.5,539.7 1277.5,539.1 1280.5,538.5 1283.5,537.9 1286.5,537.3 1289.5,536.7 1292.5,536.1 1295.5,535.5 1298.5,534.9 1301.5,534.4 1304.5,533.8 1307.5,533.2 1310.5,532.6 1313.5,532.1 1316.5,531.5 1319.5,531 1322.5,530.4 1325.5,529.9 1328.5,529.3 1331.5,528.8 1334.5,528.3 1337.5,527.7 1340.5,527.2 1343.5,526.7 1346.5,526.1 1349.5,525.6 1352.5,525.1 1355.5,524.6 1358.5,524.1 1361.5,523.6 1364.5,523.1 1367.5,522.6 1370.5,522.1 1373.5,521.6 1376.5,521.1 1379.5,520.7 1382.5,520.2 1385.5,519.7 1388.5,519.2 1391.5,518.8 1394.5,518.3 1397.5,517.8 1400.5,517.4 1403.5,516.9 1406.5,516.5 1409.5,516 1412.5,515.6 1415.5,515.1 1418.5,514.7 1421.5,514.2 1424.5,513.8 1427.5,513.4 1430.5,512.9 1433.5,512.5 1436.5,512.1 1439.5,511.7 1442.5,511.3 1445.5,510.8 1448.5,510.4 1451.5,510 1454.5,509.6 1457.5,509.2 1460.5,508.8 1463.5,508.4 1466.5,508 1469.5,507.6 1472.5,507.2 1475.5,506.8 1478.5,506.4 1481.5,506 1484.5,505.7 1487.5,505.3 1490.5,504.9 1493.5,504.5 1496.5,504.2 1499.5,503.8 1502.5,503.4 1505.5,503 1508.5,502.7 1511.5,502.3 1514.5,502 1517.5,501.6 1520.5,501.2 1523.5,500.9 1526.5,500.5 1529.5,500.2 1532.5,499.8 1535.5,499.5 1538.5,499.1 1541.5,498.8 1544.5,498.4 1547.5,498.1 1550.5,497.8 1553.5,497.4 1556.5,497.1 1559.5,496.7 1562.5,496.4 1565.5,496.1 1568.5,495.8 1571.5,495.4 1574.5,495.1 1577.5,494.8 1580.5,494.4 1583.5,494.1 1586.5,493.8 1589.5,493.5 1592.5,493.2 1595.5,492.8 1598.5,492.5 1601.5,492.2 1604.5,491.9 1607.5,491.6 1610.5,491.3 1613.5,491 1616.5,490.6 1619.5,490.3 1622.5,490 1625.5,489.7 1628.5,489.4 1631.5,489.1 1634.5,488.8 1637.5,488.5 1640.5,488.2 1643.5,487.9 1646.5,487.6 1649.5,487.3 1652.5,487 1655.5,486.7 1658.5,486.4 1661.5,486.1 1664.5,485.8 1667.5,485.5 1670.5,485.2 1673.5,484.9 1676.5,484.6 1679.5,484.3 1682.5,484 1685.5,483.7 1688.5,483.4 1691.5,483.1 1694.5,482.8 1697.5,482.6 1700.5,482.3 1703.5,482 1706.5,481.7 1709.5,481.4 1712.5,481.1 1715.5,480.8 1718.5,480.5 1721.5,480.2 1724.5,479.9 1727.5,479.6 1730.5,479.3 1733.5,479 1736.5,478.7 1739.5,478.4 1742.5,478.2 1745.5,477.9 1748.5,477.6 1751.5,477.3 1754.5,477 1757.5,476.7 1760.5,476.4 1763.5,476.1 1766.5,475.8 1769.5,475.5 1772.5,475.2 1775.5,474.9 1778.5,474.6 1781.5,474.3 1784.5,474 1787.5,473.7 1790.5,473.4 1791.5,473.3"/>
<polyline class="cv" stroke="#ff0000" stroke-width="5" stroke-dasharray="76 77.3" stroke-dashoffset="0.5" points="260.5,1525.3 263.5,1525.3 266.5,1525.3 269.5,1525.3 272.5,1525.3 275.5,1525.3 278.5,1525.2 281.5,1525.2 284.5,1525.2 287.5,1525.2 290.5,1525.2 293.5,1525.2 296.5,1525.2 299.5,1525.2 302.5,1525.1 305.5,1525.1 308.5,1525.1 311.5,1525.1 314.5,1525 317.5,1525 320.5,1525 323.5,1525 326.5,1524.9 329.5,1524.9 332.5,1524.9 335.5,1524.9 338.5,1524.9 341.5,1524.9 344.5,1524.9 347.5,1524.9 350.5,1524.9 353.5,1525 356.5,1525 359.5,1525 362.5,1525 365.5,1525 368.5,1525 371.5,1525 374.5,1524.9 377.5,1524.9 380.5,1524.9 383.5,1524.9 386.5,1524.9 389.5,1524.9 392.5,1524.8 395.5,1524.8 398.5,1524.8 401.5,1524.8 404.5,1524.7 407.5,1524.7 410.5,1524.7 413.5,1524.6 416.5,1524.6 419.5,1524.5 422.5,1524.5 425.5,1524.4 428.5,1524.4 431.5,1524.3 434.5,1524.3 437.5,1524.2 440.5,1524.2 443.5,1524.1 446.5,1524 449.5,1524 452.5,1523.9 455.5,1523.8 458.5,1523.8 461.5,1523.7 464.5,1523.6 467.5,1523.5 470.5,1523.4 473.5,1523.4 476.5,1523.3 479.5,1523.2 482.5,1523.1 485.5,1523 488.5,1522.9 491.5,1522.8 494.5,1522.7 497.5,1522.6 500.5,1522.5 503.5,1522.4 506.5,1522.3 509.5,1522.1 512.5,1522 515.5,1521.9 518.5,1521.8 521.5,1521.7 524.5,1521.5 527.5,1521.4 530.5,1521.3 533.5,1521.2 536.5,1521 539.5,1520.9 542.5,1520.7 545.5,1520.6 548.5,1520.5 551.5,1520.3 554.5,1520.2 557.5,1520 560.5,1519.9 563.5,1519.7 566.5,1519.6 569.5,1519.4 572.5,1519.2 575.5,1519.1 578.5,1518.9 581.5,1518.7 584.5,1518.6 587.5,1518.4 590.5,1518.2 593.5,1518 596.5,1517.9 599.5,1517.7 602.5,1517.5 605.5,1517.3 608.5,1517.1 611.5,1516.9 614.5,1516.7 617.5,1516.5 620.5,1516.3 623.5,1516.1 626.5,1515.9 629.5,1515.7 632.5,1515.5 635.5,1515.3 638.5,1515.1 641.5,1514.9 644.5,1514.7 647.5,1514.4 650.5,1514.2 653.5,1514 656.5,1513.8 659.5,1513.5 662.5,1513.3 665.5,1513.1 668.5,1512.9 671.5,1512.6 674.5,1512.4 677.5,1512.1 680.5,1511.9 683.5,1511.6 686.5,1511.4 689.5,1511.1 692.5,1510.9 695.5,1510.6 698.5,1510.4 701.5,1510.1 704.5,1509.9 707.5,1509.6 710.5,1509.3 713.5,1509.1 716.5,1508.8 719.5,1508.5 722.5,1508.2 725.5,1508 728.5,1507.7 731.5,1507.4 734.5,1507.1 737.5,1506.8 740.5,1506.5 743.5,1506.3 746.5,1506 749.5,1505.7 752.5,1505.4 755.5,1505.1 758.5,1504.8 761.5,1504.5 764.5,1504.2 767.5,1503.8 770.5,1503.5 773.5,1503.2 776.5,1502.9 779.5,1502.6 782.5,1502.3 785.5,1501.9 788.5,1501.6 791.5,1501.3 794.5,1501 797.5,1500.6 800.5,1500.3 803.5,1500 806.5,1499.6 809.5,1499.3 812.5,1499 815.5,1498.6 818.5,1498.3 821.5,1497.9 824.5,1497.6 827.5,1497.2 830.5,1496.9 833.5,1496.5 836.5,1496.1 839.5,1495.8 842.5,1495.4 845.5,1495 848.5,1494.7 851.5,1494.3 854.5,1493.9 857.5,1493.6 860.5,1493.2 863.5,1492.8 866.5,1492.4 869.5,1492 872.5,1491.6 875.5,1491.3 878.5,1490.9 881.5,1490.5 884.5,1490.1 887.5,1489.7 890.5,1489.3 893.5,1488.9 896.5,1488.5 899.5,1488.1 902.5,1487.7 905.5,1487.3 908.5,1486.8 911.5,1486.4 914.5,1486 917.5,1485.6 920.5,1485.2 923.5,1484.7 926.5,1484.3 929.5,1483.9 932.5,1483.5 935.5,1483 938.5,1482.6 941.5,1482.2 944.5,1481.7 947.5,1481.3 950.5,1480.8 953.5,1480.4 956.5,1479.9 959.5,1479.5 962.5,1479 965.5,1478.6 968.5,1478.1 971.5,1477.7 974.5,1477.2 977.5,1476.7 980.5,1476.3 983.5,1475.8 986.5,1475.3 989.5,1474.9 992.5,1474.4 995.5,1473.9 998.5,1473.5 1001.5,1473 1004.5,1472.5 1007.5,1472 1010.5,1471.5 1013.5,1471 1016.5,1470.5 1019.5,1470 1022.5,1469.6 1025.5,1469.1 1028.5,1468.6 1031.5,1468.1 1034.5,1467.6 1037.5,1467 1040.5,1466.5 1043.5,1466 1046.5,1465.5 1049.5,1465 1052.5,1464.5 1055.5,1464 1058.5,1463.4 1061.5,1462.9 1064.5,1462.4 1067.5,1461.9 1070.5,1461.3 1073.5,1460.8 1076.5,1460.3 1079.5,1459.7 1082.5,1459.2 1085.5,1458.7 1088.5,1458.1 1091.5,1457.6 1094.5,1457 1097.5,1456.5 1100.5,1455.9 1103.5,1455.4 1106.5,1454.8 1109.5,1454.3 1112.5,1453.7 1115.5,1453.1 1118.5,1452.6 1121.5,1452 1124.5,1451.5 1127.5,1450.9 1130.5,1450.3 1133.5,1449.7 1136.5,1449.2 1139.5,1448.6 1142.5,1448 1145.5,1447.4 1148.5,1446.8 1151.5,1446.2 1154.5,1445.7 1157.5,1445.1 1160.5,1444.5 1163.5,1443.9 1166.5,1443.3 1169.5,1442.7 1172.5,1442.1 1175.5,1441.5 1178.5,1440.9 1181.5,1440.3 1184.5,1439.7 1187.5,1439 1190.5,1438.4 1193.5,1437.8 1196.5,1437.2 1199.5,1436.6 1202.5,1436 1205.5,1435.3 1208.5,1434.7 1211.5,1434.1 1214.5,1433.4 1217.5,1432.8 1220.5,1432.2 1223.5,1431.5 1226.5,1430.9 1229.5,1430.3 1232.5,1429.6 1235.5,1429 1238.5,1428.3 1241.5,1427.7 1244.5,1427 1247.5,1426.4 1250.5,1425.7 1253.5,1425.1 1256.5,1424.4 1259.5,1423.7 1262.5,1423.1 1265.5,1422.4 1268.5,1421.7 1271.5,1421.1 1274.5,1420.4 1277.5,1419.7 1280.5,1419 1283.5,1418.4 1286.5,1417.7 1289.5,1417 1292.5,1416.3 1295.5,1415.6 1298.5,1414.9 1301.5,1414.3 1304.5,1413.6 1307.5,1412.9 1310.5,1412.2 1313.5,1411.5 1316.5,1410.8 1319.5,1410.1 1322.5,1409.4 1325.5,1408.7 1328.5,1407.9 1331.5,1407.2 1334.5,1406.5 1337.5,1405.8 1340.5,1405.1 1343.5,1404.4 1346.5,1403.6 1349.5,1402.9 1352.5,1402.2 1355.5,1401.5 1358.5,1400.7 1361.5,1400 1364.5,1399.3 1367.5,1398.5 1370.5,1397.8 1373.5,1397.1 1376.5,1396.3 1379.5,1395.6 1382.5,1394.8 1385.5,1394.1 1388.5,1393.3 1391.5,1392.6 1394.5,1391.8 1397.5,1391.1 1400.5,1390.3 1403.5,1389.5 1406.5,1388.8 1409.5,1388 1412.5,1387.3 1415.5,1386.5 1418.5,1385.7 1421.5,1384.9 1424.5,1384.2 1427.5,1383.4 1430.5,1382.6 1433.5,1381.8 1436.5,1381 1439.5,1380.3 1442.5,1379.5 1445.5,1378.7 1448.5,1377.9 1451.5,1377.1 1454.5,1376.3 1457.5,1375.5 1460.5,1374.7 1463.5,1373.9 1466.5,1373.1 1469.5,1372.3 1472.5,1371.5 1475.5,1370.7 1478.5,1369.9 1481.5,1369.1 1484.5,1368.2 1487.5,1367.4 1490.5,1366.6 1493.5,1365.8 1496.5,1365 1499.5,1364.1 1502.5,1363.3 1505.5,1362.5 1508.5,1361.7 1511.5,1360.8 1514.5,1360 1517.5,1359.2 1520.5,1358.3 1523.5,1357.5 1526.5,1356.6 1529.5,1355.8 1532.5,1354.9 1535.5,1354.1 1538.5,1353.2 1541.5,1352.4 1544.5,1351.5 1547.5,1350.7 1550.5,1349.8 1553.5,1349 1556.5,1348.1 1559.5,1347.2 1562.5,1346.4 1565.5,1345.5 1568.5,1344.6 1571.5,1343.8 1574.5,1342.9 1577.5,1342 1580.5,1341.1 1583.5,1340.2 1586.5,1339.4 1589.5,1338.5 1592.5,1337.6 1595.5,1336.7 1598.5,1335.8 1601.5,1334.9 1604.5,1334 1607.5,1333.1 1610.5,1332.2 1613.5,1331.3 1616.5,1330.4 1619.5,1329.5 1622.5,1328.6 1625.5,1327.7 1628.5,1326.8 1631.5,1325.9 1634.5,1325 1637.5,1324.1 1640.5,1323.1 1643.5,1322.2 1646.5,1321.3 1649.5,1320.4 1652.5,1319.4 1655.5,1318.5 1658.5,1317.6 1661.5,1316.7 1664.5,1315.7 1667.5,1314.8 1670.5,1313.9 1673.5,1312.9 1676.5,1312 1679.5,1311 1682.5,1310.1 1685.5,1309.1 1688.5,1308.2 1691.5,1307.2 1694.5,1306.3 1697.5,1305.3 1700.5,1304.4 1703.5,1303.4 1706.5,1302.5 1709.5,1301.5 1712.5,1300.5 1715.5,1299.6 1718.5,1298.6 1721.5,1297.6 1724.5,1296.6 1727.5,1295.7 1730.5,1294.7 1733.5,1293.7 1736.5,1292.7 1739.5,1291.8 1742.5,1290.8 1745.5,1289.8 1748.5,1288.8 1751.5,1287.8 1754.5,1286.8 1757.5,1285.8 1760.5,1284.8 1763.5,1283.8 1766.5,1282.8 1769.5,1281.8 1772.5,1280.8 1775.5,1279.8 1778.5,1278.8 1781.5,1277.8 1784.5,1276.8 1787.5,1275.8 1790.5,1274.8 1791.5,1274.4"/>
<polyline class="cv" stroke="#ff0000" stroke-width="5" stroke-dasharray="25.6 25.45" stroke-dashoffset="2.3" points="262,137 264,137.7 266,138.4 268,139.2 270,139.9 272,140.7 274,141.5 276,142.2 278,143 280,143.9 282,144.7 284,145.5 286,146.4 288,147.4 290,148.4 292,149.5 294,150.5 296,151.6 298,152.6 300,153.5 302,154.3 304,155 306,155.5 308,155.9 310,156.3 312,156.7 314,157.1 316,157.4 318,157.7 320,158 322,158.3 324,158.5 326,158.7 328,158.9 330,159.1 332,159.2 334,159.3 336,159.4 338,159.5 340,159.6 342,159.7 344,159.8 346,159.9 348,159.9 350,160 352,160.1 354,160.2 356,160.2 358,160.3 360,160.4 362,160.4 364,160.5 366,160.6 368,160.6 370,160.7 372,160.8 374,160.8 376,160.9 378,161 380,161.1 382,161.2 384,161.3 386,161.4 388,161.6 390,161.8 392,162 394,162.3 396,162.5 398,162.7 400,163 402,163.2 404,163.4 406,163.6 408,163.7 410,163.9 412,164 414,164.1 416,164.2 418,164.3 420,164.4 422,164.5 424,164.6 426,164.6 428,164.7 430,164.8 432,164.9 434,165 436,165.1 438,165.2 440,165.3 442,165.4 444,165.5 446,165.5 448,165.6 450,165.7 452,165.8 454,165.9 456,166 458,166.2 460,166.3 462,166.5 464,166.7 466,166.9 468,167.2 470,167.4 472,167.7 474,168 476,168.2 478,168.5 480,168.7 482,168.8 484,169 486,169 488,169.1 490,169.1 492,169.2 494,169.2 496,169.2 498,169.3 500,169.3 502,169.3 504,169.4 506,169.4 508,169.4 510,169.5 512,169.5 514,169.5 516,169.6 518,169.6 520,169.7 522,169.7 524,169.8 526,169.8 528,169.9 530,169.9 532,170 534,170.1 536,170.1 538,170.2 540,170.2 542,170.3 544,170.4 546,170.4 548,170.5 550,170.6 552,170.6 554,170.7 556,170.8 558,170.8 560,170.9 562,171 564,171.1 566,171.2 568,171.2 570,171.3 572,171.4 574,171.5 576,171.6 578,171.7 580,171.8 582,171.9 584,172.1 586,172.2 588,172.3 590,172.5 592,172.6 594,172.8 596,172.9 598,173.1 600,173.2 602,173.4 604,173.5 606,173.7 608,173.9 610,174 612,174.2 614,174.3 616,174.5 618,174.6 620,174.7 622,174.9 624,175 626,175.1 628,175.2 630,175.3 632,175.4 634,175.5 636,175.6 638,175.7 640,175.8 642,175.9 644,176 646,176.1 648,176.2 650,176.3 652,176.4 654,176.5 656,176.6 658,176.7 660,176.8 662,176.9 664,177 666,177 668,177.1 670,177.2 672,177.3 674,177.4 676,177.5 678,177.5 680,177.6 682,177.7 684,177.8 686,177.9 688,177.9 690,178 692,178.1 694,178.2 696,178.3 698,178.3 700,178.4 702,178.5 704,178.6 706,178.6 708,178.7 710,178.8 712,178.8 714,178.9 716,179 718,179 720,179.1 722,179.1 724,179.2 726,179.2 728,179.3 730,179.3 732,179.3 734,179.4 736,179.4 738,179.4 740,179.5 742,179.5 744,179.5 746,179.5 748,179.6 750,179.6 752,179.6 754,179.6 756,179.7 758,179.7 760,179.7 762,179.7 764,179.8 766,179.8 768,179.8 770,179.9 772,179.9 774,179.9 776,180 778,180 780,180.1 782,180.1 784,180.2 786,180.3 788,180.4 790,180.5 792,180.6 794,180.7 796,180.8 798,180.9 800,181 802,181.2 804,181.3 806,181.4 808,181.5 810,181.6 812,181.8 814,181.9 816,182 818,182.1 820,182.2 822,182.3 824,182.4 826,182.4 828,182.5 830,182.6 832,182.6 834,182.7 836,182.7 838,182.8 840,182.8 842,182.9 844,183 846,183 848,183 850,183.1 852,183.1 854,183.2 856,183.2 858,183.3 860,183.3 862,183.4 864,183.4 866,183.4 868,183.5 870,183.5 872,183.6 874,183.6 876,183.7 878,183.7 880,183.8 882,183.8 884,183.9 886,183.9 888,184 890,184 892,184 894,184.1 896,184.1 898,184.2 900,184.2 902,184.3 904,184.3 906,184.4 908,184.4 910,184.5 912,184.5 914,184.6 916,184.6 918,184.7 920,184.7 922,184.8 924,184.8 926,184.9 928,184.9 930,185 932,185 934,185 936,185.1 938,185.1 940,185.2 942,185.2 944,185.3 946,185.3 948,185.4 950,185.4 952,185.5 954,185.5 956,185.6 958,185.6 960,185.7 962,185.7 964,185.7 966,185.8 968,185.9 970,185.9 972,186 974,186 976,186.1 978,186.1 980,186.2 982,186.2 984,186.3 986,186.4 988,186.5 990,186.5 992,186.6 994,186.7 996,186.8 998,186.9 1000,187 1002,187.1 1004,187.2 1006,187.3 1008,187.4 1010,187.5 1012,187.6 1014,187.6 1016,187.7 1018,187.8 1020,187.9 1022,187.9 1024,188 1026,188.1 1028,188.1 1030,188.2 1032,188.2 1034,188.3 1036,188.3 1038,188.4 1040,188.4 1042,188.5 1044,188.5 1046,188.6 1048,188.6 1050,188.7 1052,188.7 1054,188.8 1056,188.8 1058,188.9 1060,188.9 1062,189 1064,189 1066,189.1 1068,189.1 1070,189.2 1072,189.2 1074,189.2 1076,189.3 1078,189.3 1080,189.4 1082,189.4 1084,189.4 1086,189.5 1088,189.5 1090,189.6 1092,189.6 1094,189.6 1096,189.7 1098,189.7 1100,189.8 1102,189.8 1104,189.8 1106,189.9 1108,189.9 1110,189.9 1112,190 1114,190 1116,190 1118,190.1 1120,190.1 1122,190.1 1124,190.2 1126,190.2 1128,190.3 1130,190.3 1132,190.3 1134,190.4 1136,190.4 1138,190.4 1140,190.5 1142,190.5 1144,190.5 1146,190.6 1148,190.6 1150,190.6 1152,190.7 1154,190.7 1156,190.7 1158,190.8 1160,190.8 1162,190.8 1164,190.9 1166,190.9 1168,190.9 1170,191 1172,191 1174,191 1176,191.1 1178,191.1 1180,191.1 1182,191.2 1184,191.2 1186,191.2 1188,191.3 1190,191.3 1192,191.4 1194,191.4 1196,191.4 1198,191.5 1200,191.5 1202,191.5 1204,191.6 1206,191.6 1208,191.6 1210,191.7 1212,191.7 1214,191.7 1216,191.8 1218,191.8 1220,191.8 1222,191.9 1224,191.9 1226,192 1228,192 1230,192 1232,192.1 1234,192.1 1236,192.1 1238,192.2 1240,192.2 1242,192.2 1244,192.3 1246,192.3 1248,192.3 1250,192.4 1252,192.4 1254,192.4 1256,192.5 1258,192.5 1260,192.5 1262,192.5 1264,192.6 1266,192.6 1268,192.6 1270,192.7 1272,192.7 1274,192.7 1276,192.8 1278,192.8 1280,192.8 1282,192.9 1284,192.9 1286,192.9 1288,193 1290,193 1292,193 1294,193.1 1296,193.1 1298,193.1 1300,193.2 1302,193.2 1304,193.2 1306,193.3 1308,193.3 1310,193.3 1312,193.4 1314,193.4 1316,193.4 1318,193.5 1320,193.5 1322,193.5 1324,193.6 1326,193.6 1328,193.6 1330,193.7 1332,193.7 1334,193.7 1336,193.8 1338,193.8 1340,193.8 1342,193.8 1344,193.9 1346,193.9 1348,193.9 1350,194 1352,194 1354,194.1 1356,194.1 1358,194.1 1360,194.2 1362,194.2 1364,194.2 1366,194.3 1368,194.3 1370,194.3 1372,194.4 1374,194.4 1376,194.4 1378,194.5 1380,194.5 1382,194.5 1384,194.6 1386,194.6 1388,194.6 1390,194.7 1392,194.7 1394,194.7 1396,194.8 1398,194.8 1400,194.8 1402,194.9 1404,194.9 1406,194.9 1408,195 1410,195 1412,195 1414,195.1 1416,195.1 1418,195.1 1420,195.2 1422,195.2 1424,195.2 1426,195.3 1428,195.3 1430,195.3 1432,195.4 1434,195.4 1436,195.4 1438,195.5 1440,195.5 1442,195.5 1444,195.6 1446,195.6 1448,195.6 1450,195.7 1452,195.7 1454,195.7 1456,195.8 1458,195.8 1460,195.8 1462,195.8 1464,195.9 1466,195.9 1468,195.9 1470,196 1472,196 1474,196 1476,196.1 1478,196.1 1480,196.1 1482,196.1 1484,196.2 1486,196.2 1488,196.2 1490,196.2 1492,196.3 1494,196.3 1496,196.3 1498,196.3 1500,196.4 1502,196.4 1504,196.4 1506,196.4 1508,196.4 1510,196.5 1512,196.5 1514,196.5 1516,196.5 1518,196.6 1520,196.6 1522,196.6 1524,196.6 1526,196.6 1528,196.7 1530,196.7 1532,196.7 1534,196.7 1536,196.8 1538,196.8 1540,196.8 1542,196.8 1544,196.9 1546,196.9 1548,196.9 1550,196.9 1552,197 1554,197 1556,197 1558,197 1560,197.1 1562,197.1 1564,197.1 1566,197.2 1568,197.2 1570,197.2 1572,197.2 1574,197.3 1576,197.3 1578,197.3 1580,197.3 1582,197.4 1584,197.4 1586,197.4 1588,197.4 1590,197.5 1592,197.5 1594,197.5 1596,197.5 1598,197.5 1600,197.6 1602,197.6 1604,197.6 1606,197.6 1608,197.6 1610,197.6 1612,197.7 1614,197.7 1616,197.7 1618,197.7 1620,197.7 1622,197.7 1624,197.8 1626,197.8 1628,197.8 1630,197.8 1632,197.8 1634,197.8 1636,197.9 1638,197.9 1640,197.9 1642,197.9 1644,197.9 1646,197.9 1648,198 1650,198 1652,198 1654,198 1656,198 1658,198 1660,198.1 1662,198.1 1664,198.1 1666,198.1 1668,198.1 1670,198.1 1672,198.2 1674,198.2 1676,198.2 1678,198.2 1680,198.2 1682,198.2 1684,198.2 1686,198.3 1688,198.3 1690,198.3 1692,198.3 1694,198.3 1696,198.3 1698,198.3 1700,198.3 1702,198.4 1704,198.4 1706,198.4 1708,198.4 1710,198.4 1712,198.4 1714,198.4 1716,198.4 1718,198.5 1720,198.5 1722,198.5 1724,198.5 1726,198.5 1728,198.5 1730,198.5 1732,198.5 1734,198.5 1736,198.5 1738,198.6 1740,198.6 1742,198.6 1744,198.6 1746,198.6 1748,198.6 1750,198.6 1752,198.6 1754,198.6 1756,198.6 1758,198.6 1760,198.6 1762,198.6 1764,198.7 1766,198.7 1768,198.7 1770,198.7 1772,198.7 1774,198.7 1776,198.7 1778,198.7 1780,198.7 1782,198.7 1784,198.7 1786,198.7 1788,198.7 1790,198.7 1791.5,198.7"/>
<polyline fill="none" stroke="#000" stroke-width="3.7" stroke-linejoin="round" stroke-dasharray="24 4.5" points="266,125 278,138.5 305.7,130.4 309.5,129.8 323.5,129.8 336.5,142 340,142.3 356.5,139.3 360,139.6 384,139.6 389.4,138.7 409.7,131 414.8,127.3 437.6,132.3 441.4,134.2 464.3,131 469.3,133.6 490.9,140 496,137.4 506,131 515,130.4 535.8,124.2 553,140 584.5,130 624.5,136.2 662,130 689.5,135 705.8,117 737,135 767,122.5 799.5,133.8 814.5,117 867,137.5 904.5,117 922,126.2 952,130 987,125 1024,129.5 1039,123.8 1074,123.8 1096.5,130 1129,131.2 1149,125 1166.5,131.2 1184,125 1209,122.5 1231.5,128.8 1256.5,125 1274,120 1284,123.8 1303.5,142.5 1319,122.5 1349,128.8 1381.5,125 1424,128.8 1441.5,113.8 1454,122.5 1471.5,117 1486.5,126.2 1514,127.5 1536,122.8 1561.3,126.6 1577.8,117 1595.5,130.4 1608,120.3 1634.7,124 1657.5,120.3 1685.4,121.5 1700.6,125.3 1738.5,125.8 1763.8,125.8 1779,117.7 1790.4,118.2"/>
</g>
<g id="annotations">
<line x1="389.8" y1="1052.5" x2="459.5" y2="1120.5" class="ld"/>
<line x1="290.2" y1="1052.5" x2="389.8" y2="1052.5" stroke="#222" stroke-width="2.4"/>
<text class="an it" x="300" y="1034">f<tspan dx="0" dy="13.5">s 37</tspan></text>
<line x1="462" y1="920" x2="550.8" y2="1007.2" class="ld"/>
<line x1="376.5" y1="920" x2="462" y2="920" stroke="#222" stroke-width="2.4"/>
<text class="an it" x="380" y="902">f<tspan dx="0" dy="13.5">s 38</tspan></text>
<line x1="593" y1="838.2" x2="683.2" y2="928.5" class="ld"/>
<line x1="506.3" y1="838.2" x2="593" y2="838.2" stroke="#222" stroke-width="2.4"/>
<text class="an it" x="508.8" y="818.5">f<tspan dx="0" dy="13.5">s 48</tspan></text>
<line x1="810.8" y1="685" x2="964.5" y2="836.8" class="ld"/>
<line x1="730" y1="685" x2="810.8" y2="685" stroke="#222" stroke-width="2.4"/>
<text class="an it" x="731" y="670">f<tspan dx="0" dy="13.5">s 39</tspan></text>
<line x1="915" y1="579.8" x2="1198.5" y2="863" class="ld"/>
<line x1="835.2" y1="579.8" x2="915" y2="579.8" stroke="#222" stroke-width="2.4"/>
<text class="an it" x="839.8" y="562.5">f<tspan dx="0" dy="13.5">s 47</tspan></text>
<line x1="1086" y1="521" x2="1427" y2="861.8" class="ld"/>
<line x1="1007.7" y1="521" x2="1086" y2="521" stroke="#222" stroke-width="2.4"/>
<text class="an it" x="1009.3" y="502.7">f<tspan dx="0" dy="13.5">s 40</tspan></text>
<line x1="1277" y1="486" x2="1741.6" y2="949.7" class="ld"/>
<line x1="1194.5" y1="486" x2="1277" y2="486" stroke="#222" stroke-width="2.4"/>
<text class="an it" x="1197" y="468.3">f<tspan dx="0" dy="13.5">s 46</tspan></text>
<line x1="1081.5" y1="1540.2" x2="849.5" y2="1304.8" class="ld"/>
<line x1="1081.5" y1="1540.2" x2="1148" y2="1540.2" stroke="#222" stroke-width="2.4"/>
<text class="an it" x="1072.2" y="1518.5">f<tspan dx="0" dy="13.5">s 41</tspan></text>
<line x1="1246" y1="1504.7" x2="1069" y2="1327.2" class="ld"/>
<line x1="1246" y1="1504.7" x2="1324" y2="1504.7" stroke="#222" stroke-width="2.4"/>
<text class="an" x="1230.7" y="1487">f<tspan dx="0" dy="13.5">s 45</tspan></text>
<line x1="1397.3" y1="1475.1" x2="1241.5" y2="1318" class="ld"/>
<line x1="1397.3" y1="1475.1" x2="1474.2" y2="1475.1" stroke="#222" stroke-width="2.4"/>
<text class="an it" x="1381" y="1452.9">f<tspan dx="0" dy="13.5">s 42</tspan></text>
<line x1="1535" y1="1446.7" x2="1407.8" y2="1319.8" class="ld"/>
<line x1="1535" y1="1446.7" x2="1598.5" y2="1446.7" stroke="#888" stroke-width="4.0"/>
<text class="an it" x="1521.4" y="1426">f<tspan dx="0" dy="13.5">s 44</tspan></text>
<line x1="1677.8" y1="1407.3" x2="1563.8" y2="1294" class="ld"/>
<line x1="1677.8" y1="1407.3" x2="1750" y2="1407.3" stroke="#777" stroke-width="2.6"/>
<text class="an it" x="1668" y="1384.8">f<tspan dx="0" dy="13.5">s 43</tspan></text>
<line x1="867" y1="138.5" x2="975.4" y2="244.7" class="ld"/>
<text transform="translate(886.5,296.1) scale(0.908,1)" style="font-size:57.5px;font-weight:bold;stroke:#000;stroke-width:0;stroke-linejoin:round">Pressure</text>
<line x1="1332" y1="289.2" x2="1236.5" y2="193.8" class="ld"/>
<line x1="1332" y1="289.2" x2="1530" y2="289.2" stroke="#1a1a1a" stroke-width="2.4"/>
<text transform="translate(1325.5,274.5) scale(1,1.05)" style="font-size:49px;font-weight:bold">T<tspan dx="0" dy="9.3" style="font-size:42.2px">m_upper</tspan></text>
<line x1="798.3" y1="1556.6" x2="730.2" y2="1511.7" class="ld"/>
<line x1="798.3" y1="1556.6" x2="1005" y2="1556.6" stroke="#1a1a1a" stroke-width="2.4"/>
<text transform="translate(797.3,1537) scale(1,1.05)" style="font-size:49px;font-weight:bold">T<tspan dx="0" dy="9.3" style="font-size:42.2px">m_lower</tspan></text>
</g>
<g id="legend">
<line x1="325" y1="196.3" x2="543.3" y2="196.3" stroke="#9900cc" stroke-width="5"/>
<text class="lg" transform="translate(563,203.5) scale(1.45,1)">f<tspan dx="0" dy="5.5" style="font-size:22px">s 37</tspan></text>
<line x1="325" y1="237.5" x2="543.3" y2="237.5" stroke="#000000" stroke-width="5"/>
<text class="lg" transform="translate(563,244.7) scale(1.45,1)">f<tspan dx="0" dy="5.5" style="font-size:22px">s 38</tspan></text>
<line x1="325" y1="278.6" x2="543.3" y2="278.6" stroke="#0000ff" stroke-width="5"/>
<text class="lg" transform="translate(563,285.8) scale(1.45,1)">f<tspan dx="0" dy="5.5" style="font-size:22px">s 39</tspan></text>
<line x1="325" y1="319.8" x2="543.3" y2="319.8" stroke="#00ffff" stroke-width="5"/>
<text class="lg" transform="translate(563,326.9) scale(1.45,1)">f<tspan dx="0" dy="5.5" style="font-size:22px">s 40</tspan></text>
<line x1="325" y1="360.9" x2="543.3" y2="360.9" stroke="#00ff00" stroke-width="5"/>
<text class="lg" transform="translate(563,368.1) scale(1.45,1)">f<tspan dx="0" dy="5.5" style="font-size:22px">s 41</tspan></text>
<line x1="325" y1="402.1" x2="543.3" y2="402.1" stroke="#ffff00" stroke-width="5"/>
<text class="lg" transform="translate(563,409.2) scale(1.45,1)">f<tspan dx="0" dy="5.5" style="font-size:22px">s 42</tspan></text>
<line x1="325" y1="443.2" x2="543.3" y2="443.2" stroke="#ff00ff" stroke-width="5"/>
<text class="lg" transform="translate(563,450.4) scale(1.45,1)">f<tspan dx="0" dy="5.5" style="font-size:22px">s 43</tspan></text>
<line x1="325" y1="484.4" x2="543.3" y2="484.4" stroke="#9999ff" stroke-width="5"/>
<text class="lg" transform="translate(563,491.6) scale(1.45,1)">f<tspan dx="0" dy="5.5" style="font-size:22px">s 44</tspan></text>
<line x1="325" y1="525.5" x2="543.3" y2="525.5" stroke="#993366" stroke-width="5"/>
<text class="lg" transform="translate(563,532.7) scale(1.45,1)">f<tspan dx="0" dy="5.5" style="font-size:22px">s 45</tspan></text>
<line x1="325" y1="566.6" x2="543.3" y2="566.6" stroke="#009933" stroke-width="5"/>
<text class="lg" transform="translate(563,573.9) scale(1.45,1)">f<tspan dx="0" dy="5.5" style="font-size:22px">s 46</tspan></text>
<line x1="325" y1="607.8" x2="543.3" y2="607.8" stroke="#999999" stroke-width="5"/>
<text class="lg" transform="translate(563,615) scale(1.45,1)">f<tspan dx="0" dy="5.5" style="font-size:22px">s 47</tspan></text>
<line x1="325" y1="649" x2="543.3" y2="649" stroke="#ccff66" stroke-width="5"/>
<text class="lg" transform="translate(563,656.2) scale(1.45,1)">f<tspan dx="0" dy="5.5" style="font-size:22px">s 48</tspan></text>
<line x1="325" y1="690.1" x2="543.3" y2="690.1" stroke="#f00" stroke-width="5" stroke-dasharray="24.5 26.5"/>
<text class="lgT" transform="translate(561.5,697.1) scale(1.5,1)">T<tspan dx="0" dy="4.6" style="font-size:15px">m_upper</tspan></text>
<line x1="325" y1="727.5" x2="543.3" y2="727.5" stroke="#f00" stroke-width="5" stroke-dasharray="75.5 76.5"/>
<text class="lgT" transform="translate(561.5,738.2) scale(1.5,1)">T<tspan dx="0" dy="4.6" style="font-size:15px">m_lower</tspan></text>
</g>
<g id="axis-right">
<line x1="1791.85" y1="53.3" x2="1791.85" y2="1632.7" stroke="#808080" stroke-width="2.3"/>
<line x1="1795.75" y1="49.5" x2="1795.75" y2="1632.7" stroke="#000" stroke-width="5.5"/>
<line class="ax" x1="1786.5" y1="1577.7" x2="1794.5" y2="1577.7"/>
<line class="tkl" x1="1794.5" y1="1577.6" x2="1849.5" y2="1577.6"/>
<text class="tk" transform="translate(1870,1592.2) scale(1,0.965)">0</text>
<line class="tkl" x1="1794.5" y1="1432" x2="1822.8" y2="1432"/>
<line class="tkl" x1="1794.5" y1="1286.4" x2="1849.5" y2="1286.4"/>
<text class="tk" transform="translate(1870,1301) scale(1,0.965)">20</text>
<line class="tkl" x1="1794.5" y1="1140.9" x2="1822.8" y2="1140.9"/>
<line class="tkl" x1="1794.5" y1="995.3" x2="1849.5" y2="995.3"/>
<text class="tk" transform="translate(1870,1009.9) scale(1,0.965)">40</text>
<line class="tkl" x1="1794.5" y1="849.7" x2="1822.8" y2="849.7"/>
<line class="tkl" x1="1794.5" y1="704.1" x2="1849.5" y2="704.1"/>
<text class="tk" transform="translate(1870,718.7) scale(1,0.965)">60</text>
<line class="tkl" x1="1794.5" y1="558.5" x2="1822.8" y2="558.5"/>
<line class="tkl" x1="1794.5" y1="413" x2="1849.5" y2="413"/>
<text class="tk" transform="translate(1870,427.6) scale(1,0.965)">80</text>
<line class="tkl" x1="1794.5" y1="267.4" x2="1822.8" y2="267.4"/>
<line class="tkl" x1="1794.5" y1="121.8" x2="1849.5" y2="121.8"/>
<text class="tk" transform="translate(1870,136.4) scale(1,0.965)">100</text>
</g>
<text class="ttl" text-anchor="middle" transform="translate(84,815) rotate(-90)">Temperature [°C]</text>
<text class="ttl" text-anchor="middle" transform="translate(2007.5,814) rotate(-90)">Pressure [kPa]</text>
<text class="ttl" text-anchor="middle" transform="translate(1027.4,1760) scale(1,1.045)">Time [s]</text>
</svg></body></html>
